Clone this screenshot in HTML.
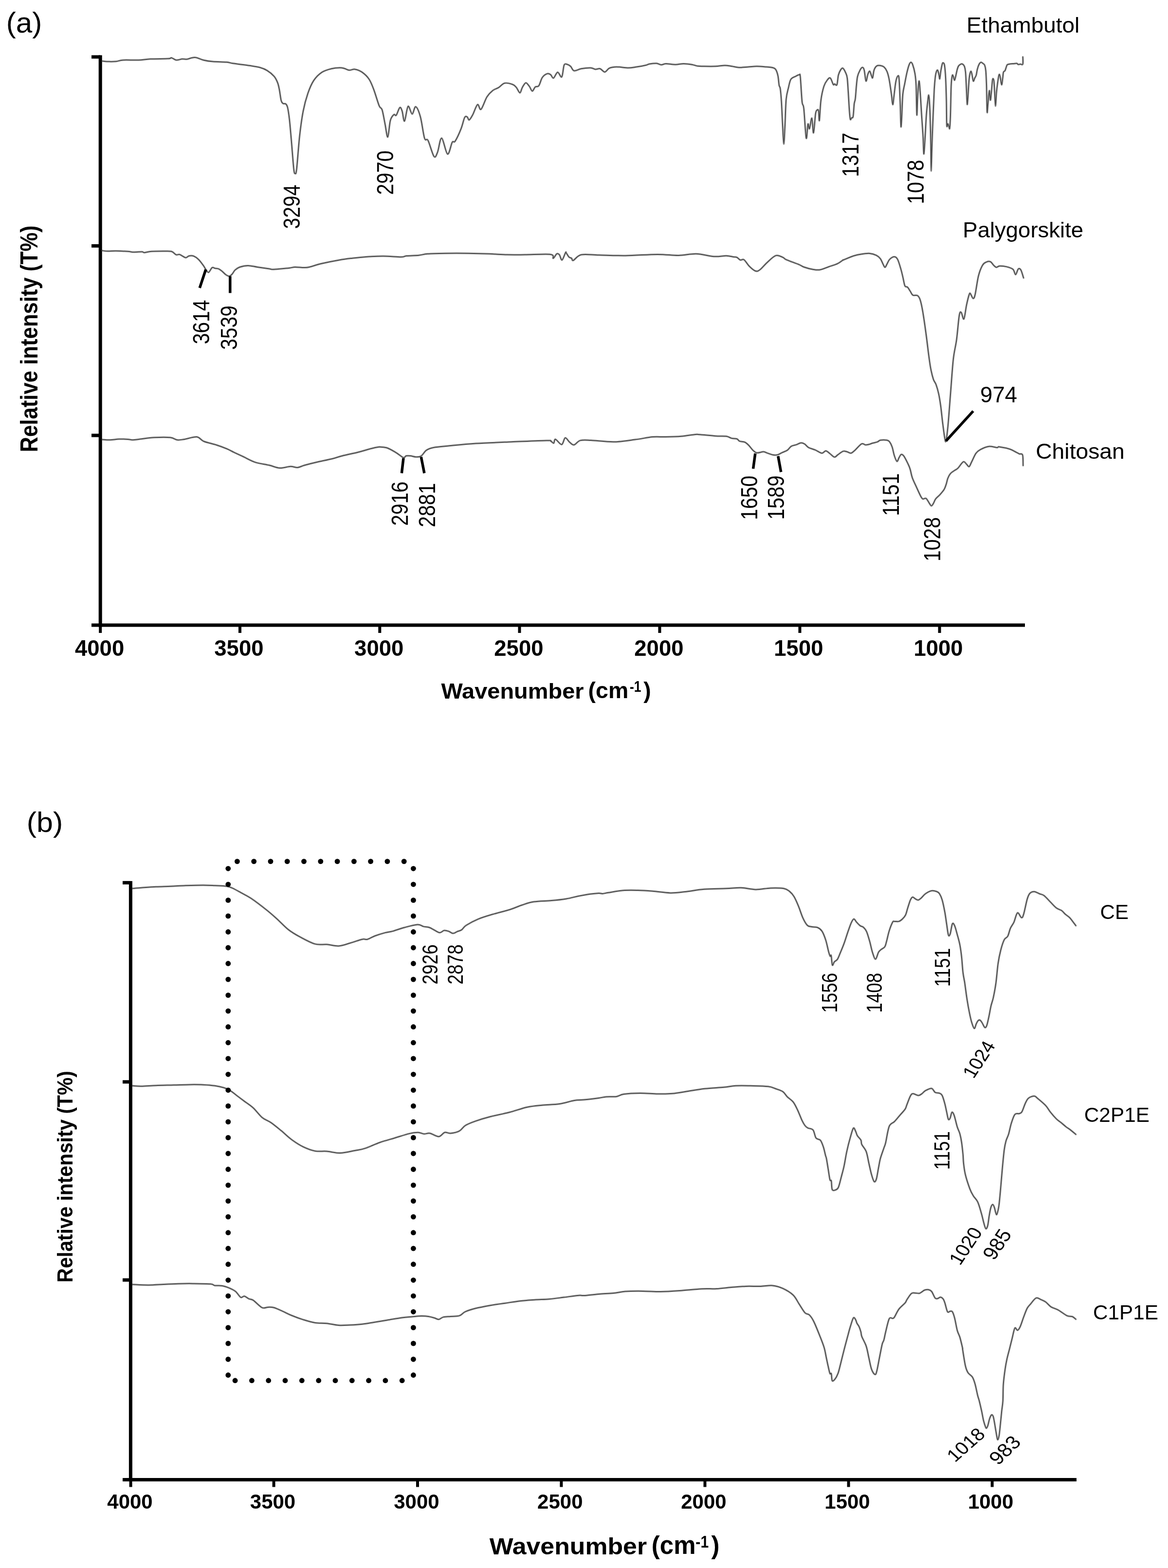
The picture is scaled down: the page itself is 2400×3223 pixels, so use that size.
<!DOCTYPE html><html><head><meta charset="utf-8"><title>FTIR spectra</title>
<style>html,body{margin:0;padding:0;background:#fff;}svg{display:block;} text{font-family:"Liberation Sans", Arial, Helvetica, sans-serif;fill:#000;}</style></head><body>
<svg width="2400" height="3223" viewBox="0 0 2400 3223">
<rect width="2400" height="3223" fill="#fff"/>
<line x1="206.2" y1="113.5" x2="206.2" y2="1288.5" stroke="#000" stroke-width="7"/>
<line x1="188" y1="117" x2="206" y2="117" stroke="#000" stroke-width="7"/>
<line x1="188" y1="505.4" x2="206" y2="505.4" stroke="#000" stroke-width="7"/>
<line x1="188" y1="895" x2="206" y2="895" stroke="#000" stroke-width="7"/>
<line x1="188" y1="1285" x2="2106" y2="1285" stroke="#000" stroke-width="7"/>
<line x1="206.2" y1="1285" x2="206.2" y2="1301" stroke="#000" stroke-width="6"/>
<line x1="493" y1="1285" x2="493" y2="1301" stroke="#000" stroke-width="6"/>
<line x1="780.3" y1="1285" x2="780.3" y2="1301" stroke="#000" stroke-width="6"/>
<line x1="1067.5" y1="1285" x2="1067.5" y2="1301" stroke="#000" stroke-width="6"/>
<line x1="1355.5" y1="1285" x2="1355.5" y2="1301" stroke="#000" stroke-width="6"/>
<line x1="1643.5" y1="1285" x2="1643.5" y2="1301" stroke="#000" stroke-width="6"/>
<line x1="1930.6" y1="1285" x2="1930.6" y2="1301" stroke="#000" stroke-width="6"/>
<line x1="268.4" y1="1811" x2="268.4" y2="3045" stroke="#000" stroke-width="7"/>
<line x1="252" y1="1814.4" x2="268" y2="1814.4" stroke="#000" stroke-width="7"/>
<line x1="252" y1="2223.8" x2="268" y2="2223.8" stroke="#000" stroke-width="7"/>
<line x1="252" y1="2631" x2="268" y2="2631" stroke="#000" stroke-width="7"/>
<line x1="252" y1="3041.5" x2="2212" y2="3041.5" stroke="#000" stroke-width="7"/>
<line x1="268.6" y1="3041.5" x2="268.6" y2="3056.5" stroke="#000" stroke-width="6"/>
<line x1="562.6" y1="3041.5" x2="562.6" y2="3056.5" stroke="#000" stroke-width="6"/>
<line x1="858" y1="3041.5" x2="858" y2="3056.5" stroke="#000" stroke-width="6"/>
<line x1="1153.4" y1="3041.5" x2="1153.4" y2="3056.5" stroke="#000" stroke-width="6"/>
<line x1="1448.5" y1="3041.5" x2="1448.5" y2="3056.5" stroke="#000" stroke-width="6"/>
<line x1="1743.6" y1="3041.5" x2="1743.6" y2="3056.5" stroke="#000" stroke-width="6"/>
<line x1="2038.7" y1="3041.5" x2="2038.7" y2="3056.5" stroke="#000" stroke-width="6"/>
<path d="M209.7,125.4C212.1,125.6 219.4,126.5 224.2,126.6C229.0,126.7 233.8,126.7 238.7,126.2C243.5,125.7 245.6,124.0 253.3,123.5C261.0,123.0 275.4,123.9 284.7,123.5C294.0,123.1 298.9,121.8 309.0,121.3C319.1,120.8 338.1,121.0 345.3,120.6C352.6,120.2 349.7,118.4 352.5,118.9C355.3,119.4 358.6,123.1 362.2,123.5C365.8,123.9 370.7,121.6 374.3,121.3C377.9,121.0 380.8,122.2 384.0,121.8C387.2,121.4 390.5,119.5 393.7,118.9C396.9,118.3 399.4,117.6 403.4,118.4C407.4,119.2 412.2,122.1 417.9,123.5C423.5,124.9 429.2,125.9 437.3,126.6C445.4,127.3 459.4,127.2 466.3,127.8C473.2,128.4 470.4,129.1 478.5,130.3C486.6,131.5 505.5,133.7 514.8,135.1C524.1,136.5 528.5,137.1 534.1,138.7C539.8,140.3 543.9,141.8 548.7,144.8C553.6,147.8 559.6,152.7 563.2,156.9C566.8,161.1 568.7,165.6 570.5,170.2C572.3,174.8 572.9,178.6 574.1,184.7C575.3,190.8 576.5,201.8 577.7,206.5C578.9,211.2 579.8,211.4 581.4,212.6C583.0,213.8 585.8,212.4 587.4,213.8C589.0,215.2 589.8,215.8 591.0,221.1C592.2,226.3 593.4,234.0 594.7,245.3C596.0,256.6 597.2,271.9 598.7,288.9C600.2,305.8 602.3,335.7 603.6,347.0C604.9,358.3 605.5,356.7 606.5,356.7C607.5,356.7 608.1,359.9 609.6,347.0C611.1,334.1 613.5,299.0 615.7,279.2C617.9,259.4 620.2,242.8 623.0,228.3C625.8,213.8 629.0,202.5 632.6,192.0C636.2,181.5 639.9,172.7 644.7,165.4C649.6,158.1 655.6,152.4 661.7,148.4C667.8,144.4 675.1,142.7 681.1,141.2C687.1,139.7 693.6,139.3 698.0,139.2C702.4,139.1 704.5,139.8 707.7,140.7C710.9,141.5 713.8,144.0 717.4,144.3C721.0,144.6 725.1,141.7 729.5,142.4C733.9,143.1 739.2,145.0 744.0,148.4C748.8,151.8 754.5,156.9 758.5,163.0C762.5,169.1 764.8,175.6 768.2,184.7C771.6,193.8 776.3,210.5 779.1,217.4C781.9,224.3 783.2,219.6 785.2,225.9C787.2,232.2 789.3,245.7 791.2,255.0C793.1,264.3 795.0,282.8 796.8,281.6C798.6,280.4 800.0,255.4 802.1,247.7C804.2,240.0 807.4,237.4 809.4,235.6C811.4,233.8 812.2,239.2 814.2,236.8C816.2,234.4 819.5,222.5 821.5,221.1C823.5,219.7 824.7,223.7 826.3,228.3C827.9,232.9 829.2,250.5 831.2,248.9C833.2,247.3 835.9,221.0 838.5,218.6C841.1,216.2 844.3,234.3 846.9,234.4C849.5,234.5 851.4,218.4 854.2,219.4C857.0,220.4 860.9,229.6 863.9,240.4C866.9,251.2 869.7,275.9 872.3,284.0C874.9,292.1 876.4,282.6 879.6,288.9C882.8,295.1 888.5,317.5 891.7,321.5C894.9,325.5 896.4,319.4 899.0,313.1C901.6,306.9 904.1,283.4 907.5,284.0C910.9,284.6 916.0,315.3 919.6,316.7C923.2,318.1 926.6,296.9 929.2,292.5C931.8,288.1 932.3,294.8 935.3,290.1C938.3,285.5 944.2,272.7 947.4,264.6C950.6,256.5 952.6,245.6 954.7,241.6C956.8,237.6 958.4,239.6 960.0,240.4C961.6,241.2 962.3,247.3 964.2,246.5C966.1,245.7 968.7,240.8 971.5,235.6C974.3,230.3 978.4,216.8 981.2,215.0C984.0,213.2 985.2,227.3 988.4,224.7C991.6,222.1 996.5,205.8 1000.5,199.3C1004.5,192.9 1008.6,189.2 1012.6,186.0C1016.6,182.8 1020.7,182.4 1024.7,179.9C1028.8,177.4 1032.1,171.9 1036.9,170.9C1041.8,169.9 1049.8,172.3 1053.8,173.8C1057.8,175.3 1058.7,177.1 1061.1,179.9C1063.5,182.7 1066.3,190.8 1068.3,190.8C1070.3,190.8 1071.2,183.3 1073.2,179.9C1075.2,176.5 1078.0,170.6 1080.4,170.2C1082.8,169.8 1085.5,174.7 1087.7,177.5C1089.9,180.3 1091.8,187.0 1093.8,187.2C1095.8,187.4 1097.6,180.5 1099.8,178.7C1102.0,176.9 1104.7,179.5 1107.1,176.3C1109.5,173.1 1111.5,163.4 1114.3,159.3C1117.1,155.2 1121.2,152.6 1124.0,151.6C1126.8,150.6 1129.1,151.8 1131.3,153.3C1133.5,154.8 1134.9,161.3 1137.3,160.5C1139.7,159.7 1143.0,148.8 1145.8,148.4C1148.6,148.0 1152.1,160.5 1154.3,158.1C1156.5,155.7 1157.3,138.2 1159.1,133.9C1160.9,129.6 1163.0,131.8 1165.2,132.2C1167.4,132.6 1170.0,134.1 1172.4,136.3C1174.8,138.5 1176.1,144.7 1179.7,145.5C1183.3,146.3 1188.6,142.2 1194.2,141.2C1199.8,140.2 1208.8,139.3 1213.6,139.5C1218.4,139.7 1220.1,142.1 1223.3,142.4C1226.5,142.7 1229.8,140.3 1233.0,141.2C1236.2,142.1 1239.5,148.1 1242.7,147.9C1245.9,147.7 1248.3,141.7 1252.3,140.0C1256.3,138.3 1260.4,137.6 1266.9,137.5C1273.4,137.4 1284.2,139.5 1291.1,139.5C1297.9,139.5 1302.0,138.4 1308.0,137.5C1314.0,136.6 1323.0,134.9 1327.4,133.9C1331.8,132.9 1330.9,132.1 1334.5,131.5C1338.1,130.9 1345.1,130.0 1349.1,130.3C1353.1,130.6 1355.5,133.1 1358.7,133.2C1361.9,133.3 1363.6,131.1 1368.4,131.0C1373.2,130.9 1381.8,132.7 1387.8,132.7C1393.8,132.7 1399.0,131.0 1404.7,131.0C1410.4,131.0 1416.9,131.9 1421.7,132.7C1426.5,133.5 1429.8,135.2 1433.8,135.8C1437.8,136.4 1439.9,136.2 1445.9,136.3C1452.0,136.4 1462.8,136.6 1470.1,136.3C1477.4,136.0 1483.8,134.4 1489.5,134.4C1495.2,134.4 1499.2,135.6 1504.0,136.3C1508.8,137.0 1512.8,138.5 1518.5,138.7C1524.2,138.9 1531.8,137.9 1537.9,137.5C1544.0,137.1 1548.9,136.3 1554.9,136.3C1561.0,136.3 1569.0,137.1 1574.2,137.5C1579.4,137.9 1583.1,137.9 1586.3,138.7C1589.5,139.5 1591.6,139.6 1593.6,142.4C1595.6,145.2 1597.3,150.2 1598.5,155.7C1599.7,161.1 1600.1,170.7 1600.9,175.1C1601.7,179.5 1602.5,176.7 1603.3,182.3C1604.1,188.0 1604.9,196.5 1605.7,209.0C1606.5,221.5 1607.3,242.9 1608.1,257.4C1608.9,271.9 1609.8,296.1 1610.6,296.1C1611.4,296.1 1612.2,272.7 1613.0,257.4C1613.8,242.1 1614.2,217.0 1615.4,204.1C1616.6,191.2 1618.6,186.8 1620.2,179.9C1621.8,173.1 1622.7,166.8 1625.1,163.0C1627.5,159.2 1632.0,158.4 1634.8,156.9C1637.6,155.4 1640.4,153.6 1642.0,153.8C1643.6,154.0 1643.5,148.9 1644.5,158.1C1645.5,167.3 1646.9,198.1 1648.1,209.0C1649.3,219.9 1650.3,211.0 1651.7,223.5C1653.1,236.0 1655.2,278.8 1656.6,284.0C1658.0,289.2 1659.1,258.2 1660.2,255.0C1661.3,251.8 1662.0,266.6 1663.3,264.6C1664.6,262.6 1666.8,241.5 1668.2,242.9C1669.6,244.3 1670.3,274.7 1671.6,273.1C1672.9,271.5 1674.6,241.1 1675.9,233.2C1677.2,225.3 1678.6,226.7 1679.6,225.9C1680.6,225.1 1681.3,224.7 1682.0,228.3C1682.7,231.9 1682.9,251.3 1683.7,247.7C1684.5,244.1 1685.3,218.2 1686.8,206.5C1688.3,194.8 1690.7,184.6 1692.9,177.5C1695.1,170.4 1697.9,167.0 1700.1,164.2C1702.3,161.4 1704.2,158.9 1706.2,160.5C1708.2,162.1 1710.8,171.8 1712.3,173.8C1713.8,175.8 1713.9,172.5 1715.1,172.6C1716.3,172.7 1718.4,177.2 1719.7,174.2C1721.0,171.2 1721.5,159.6 1722.7,154.5C1724.0,149.4 1725.7,146.3 1727.2,143.9C1728.7,141.5 1730.0,139.1 1731.8,140.1C1733.6,141.1 1736.3,146.5 1737.8,149.9C1739.3,153.3 1740.0,153.7 1740.9,160.5C1741.8,167.3 1742.3,179.5 1743.1,190.8C1743.8,202.2 1744.7,219.5 1745.4,228.6C1746.1,237.7 1746.5,243.0 1747.2,245.3C1748.0,247.6 1748.9,243.3 1749.9,242.3C1750.9,241.3 1752.1,244.0 1753.0,239.2C1753.9,234.4 1754.5,219.6 1755.2,213.5C1756.0,207.4 1756.7,209.2 1757.5,202.9C1758.3,196.6 1759.0,183.3 1759.8,175.7C1760.5,168.1 1760.9,162.6 1762.0,157.5C1763.1,152.4 1764.9,148.6 1766.6,145.4C1768.2,142.2 1770.4,138.8 1771.9,138.6C1773.4,138.3 1774.5,139.2 1775.7,143.9C1777.0,148.6 1778.2,165.1 1779.4,166.6C1780.7,168.1 1781.9,156.4 1783.2,153.0C1784.5,149.6 1785.7,145.7 1787.0,146.2C1788.3,146.7 1789.8,153.7 1790.8,156.0C1791.8,158.3 1792.2,161.8 1793.1,159.8C1794.0,157.8 1794.7,147.9 1796.1,143.9C1797.5,139.9 1799.2,137.1 1801.4,135.6C1803.6,134.1 1806.5,134.4 1809.0,134.8C1811.5,135.2 1814.2,135.8 1816.5,137.8C1818.8,139.8 1820.8,142.6 1822.6,146.9C1824.4,151.2 1825.6,155.8 1827.1,163.6C1828.6,171.4 1830.5,185.2 1831.7,193.8C1832.9,202.4 1833.5,214.5 1834.4,215.0C1835.3,215.5 1836.0,204.7 1837.0,196.9C1838.0,189.1 1839.4,174.9 1840.7,168.1C1842.0,161.3 1843.9,156.8 1845.0,156.0C1846.1,155.2 1846.7,153.8 1847.5,163.6C1848.3,173.4 1849.2,198.9 1849.8,215.0C1850.4,231.1 1850.8,256.9 1851.3,260.4C1851.8,263.9 1852.5,247.3 1853.1,236.2C1853.7,225.1 1854.1,204.4 1855.1,193.8C1856.1,183.2 1857.5,179.9 1858.9,172.6C1860.3,165.3 1861.9,156.4 1863.4,149.9C1864.9,143.4 1866.6,137.0 1868.0,133.3C1869.4,129.7 1870.5,128.0 1871.8,128.0C1873.0,128.0 1874.1,129.4 1875.5,133.3C1876.9,137.2 1878.9,144.4 1880.1,151.5C1881.2,158.6 1881.8,161.6 1882.4,175.7C1883.0,189.8 1883.4,231.7 1883.9,236.2C1884.4,240.7 1884.8,213.8 1885.4,202.9C1886.0,192.1 1887.1,176.7 1887.7,171.1C1888.3,165.5 1888.6,165.0 1889.2,169.6C1889.8,174.2 1890.7,187.3 1891.4,198.4C1892.2,209.5 1892.8,222.3 1893.7,236.2C1894.6,250.1 1896.0,268.2 1896.7,281.6C1897.5,295.0 1897.6,315.1 1898.2,316.4C1898.8,317.7 1899.6,302.6 1900.5,289.2C1901.4,275.8 1902.5,250.1 1903.5,236.2C1904.5,222.3 1905.8,212.7 1906.6,205.9C1907.4,199.1 1907.6,195.3 1908.1,195.3C1908.6,195.3 1909.1,199.1 1909.6,205.9C1910.1,212.7 1910.6,221.1 1911.1,236.2C1911.6,251.3 1912.2,277.5 1912.6,296.7C1913.0,315.9 1913.0,351.5 1913.4,351.5C1913.8,351.5 1914.4,315.9 1915.1,296.7C1915.8,277.5 1916.6,255.1 1917.4,236.2C1918.2,217.3 1919.0,196.3 1919.7,183.2C1920.5,170.1 1921.2,163.6 1921.9,157.5C1922.7,151.4 1923.4,149.1 1924.2,146.9C1925.0,144.8 1926.0,143.3 1926.9,144.6C1927.8,145.9 1928.8,151.6 1929.5,154.5C1930.2,157.4 1930.4,163.5 1931.0,162.0C1931.6,160.5 1932.4,150.6 1933.3,145.4C1934.2,140.2 1935.4,133.7 1936.3,131.0C1937.2,128.3 1937.8,128.9 1938.6,129.5C1939.4,130.1 1940.2,129.6 1940.9,134.8C1941.7,140.0 1942.5,148.7 1943.1,160.5C1943.7,172.3 1944.2,189.8 1944.6,205.9C1945.0,222.1 1944.9,249.3 1945.4,257.4C1945.9,265.5 1947.0,253.9 1947.7,254.4C1948.5,254.9 1949.3,258.9 1949.9,260.4C1950.5,261.9 1951.0,267.4 1951.5,263.4C1952.0,259.4 1952.5,250.8 1953.0,236.2C1953.5,221.6 1953.9,189.2 1954.5,175.7C1955.1,162.2 1956.0,158.2 1956.7,155.2C1957.5,152.2 1958.2,155.8 1959.0,157.5C1959.8,159.2 1960.5,165.1 1961.3,165.1C1962.1,165.1 1962.7,161.0 1963.6,157.5C1964.5,154.0 1965.6,147.6 1966.6,143.9C1967.6,140.2 1968.3,137.6 1969.6,135.6C1970.9,133.6 1972.8,132.4 1974.2,131.8C1975.6,131.2 1976.7,131.1 1977.9,131.8C1979.2,132.6 1980.7,133.5 1981.7,136.3C1982.7,139.1 1983.4,141.8 1984.0,148.4C1984.6,155.0 1985.0,165.6 1985.5,175.7C1986.0,185.8 1986.6,202.7 1987.0,209.0C1987.4,215.3 1987.4,216.0 1987.8,213.5C1988.2,211.0 1988.7,202.6 1989.3,193.8C1989.9,185.0 1990.7,168.3 1991.6,160.5C1992.5,152.7 1993.7,148.4 1994.6,146.9C1995.5,145.4 1996.0,148.2 1996.9,151.5C1997.8,154.8 1998.9,165.1 1999.9,166.6C2000.9,168.1 2001.9,162.5 2002.9,160.5C2003.9,158.5 2005.0,157.5 2005.9,154.5C2006.8,151.5 2007.2,146.2 2008.2,142.4C2009.2,138.6 2010.7,134.2 2012.0,131.8C2013.3,129.4 2014.5,128.2 2015.8,128.0C2017.1,127.8 2018.3,129.3 2019.6,130.3C2020.8,131.3 2022.3,131.5 2023.3,134.0C2024.3,136.5 2025.0,138.5 2025.6,145.4C2026.2,152.3 2026.6,161.6 2027.1,175.7C2027.5,189.8 2027.8,223.8 2028.3,230.1C2028.8,236.4 2029.3,220.8 2030.1,213.5C2030.9,206.2 2032.1,187.6 2032.9,186.3C2033.7,185.0 2034.3,205.2 2035.0,205.9C2035.7,206.7 2036.2,197.9 2037.0,190.8C2037.8,183.8 2038.6,167.6 2039.5,163.6C2040.4,159.6 2041.6,162.1 2042.3,166.6C2043.0,171.1 2043.2,182.2 2043.8,190.8C2044.3,199.4 2045.0,218.0 2045.6,218.0C2046.2,218.0 2046.8,198.6 2047.5,190.8C2048.2,183.0 2048.9,177.3 2049.8,171.1C2050.7,164.9 2051.9,156.0 2052.8,153.7C2053.7,151.4 2054.2,154.1 2055.1,157.5C2056.0,160.9 2057.2,173.7 2058.1,174.2C2059.0,174.7 2059.8,164.8 2060.4,160.5C2061.0,156.2 2061.1,150.9 2061.9,148.4C2062.7,145.9 2064.1,146.9 2065.0,145.4C2065.9,143.9 2066.4,141.3 2067.2,139.3C2067.9,137.3 2068.4,134.6 2069.5,133.3C2070.6,132.1 2072.0,132.2 2074.0,131.8C2076.0,131.4 2079.1,131.2 2081.6,131.0C2084.1,130.8 2087.4,130.1 2089.2,130.3C2091.0,130.6 2090.9,132.2 2092.2,132.5C2093.4,132.8 2095.1,131.9 2096.7,131.8C2098.3,131.7 2100.9,134.3 2101.7,131.8C2102.5,129.3 2101.7,119.4 2101.7,116.9" fill="none" stroke="#000" stroke-opacity="0.27" stroke-width="4" stroke-linejoin="round" stroke-linecap="round"/>
<path d="M209.7,125.4C212.1,125.6 219.4,126.5 224.2,126.6C229.0,126.7 233.8,126.7 238.7,126.2C243.5,125.7 245.6,124.0 253.3,123.5C261.0,123.0 275.4,123.9 284.7,123.5C294.0,123.1 298.9,121.8 309.0,121.3C319.1,120.8 338.1,121.0 345.3,120.6C352.6,120.2 349.7,118.4 352.5,118.9C355.3,119.4 358.6,123.1 362.2,123.5C365.8,123.9 370.7,121.6 374.3,121.3C377.9,121.0 380.8,122.2 384.0,121.8C387.2,121.4 390.5,119.5 393.7,118.9C396.9,118.3 399.4,117.6 403.4,118.4C407.4,119.2 412.2,122.1 417.9,123.5C423.5,124.9 429.2,125.9 437.3,126.6C445.4,127.3 459.4,127.2 466.3,127.8C473.2,128.4 470.4,129.1 478.5,130.3C486.6,131.5 505.5,133.7 514.8,135.1C524.1,136.5 528.5,137.1 534.1,138.7C539.8,140.3 543.9,141.8 548.7,144.8C553.6,147.8 559.6,152.7 563.2,156.9C566.8,161.1 568.7,165.6 570.5,170.2C572.3,174.8 572.9,178.6 574.1,184.7C575.3,190.8 576.5,201.8 577.7,206.5C578.9,211.2 579.8,211.4 581.4,212.6C583.0,213.8 585.8,212.4 587.4,213.8C589.0,215.2 589.8,215.8 591.0,221.1C592.2,226.3 593.4,234.0 594.7,245.3C596.0,256.6 597.2,271.9 598.7,288.9C600.2,305.8 602.3,335.7 603.6,347.0C604.9,358.3 605.5,356.7 606.5,356.7C607.5,356.7 608.1,359.9 609.6,347.0C611.1,334.1 613.5,299.0 615.7,279.2C617.9,259.4 620.2,242.8 623.0,228.3C625.8,213.8 629.0,202.5 632.6,192.0C636.2,181.5 639.9,172.7 644.7,165.4C649.6,158.1 655.6,152.4 661.7,148.4C667.8,144.4 675.1,142.7 681.1,141.2C687.1,139.7 693.6,139.3 698.0,139.2C702.4,139.1 704.5,139.8 707.7,140.7C710.9,141.5 713.8,144.0 717.4,144.3C721.0,144.6 725.1,141.7 729.5,142.4C733.9,143.1 739.2,145.0 744.0,148.4C748.8,151.8 754.5,156.9 758.5,163.0C762.5,169.1 764.8,175.6 768.2,184.7C771.6,193.8 776.3,210.5 779.1,217.4C781.9,224.3 783.2,219.6 785.2,225.9C787.2,232.2 789.3,245.7 791.2,255.0C793.1,264.3 795.0,282.8 796.8,281.6C798.6,280.4 800.0,255.4 802.1,247.7C804.2,240.0 807.4,237.4 809.4,235.6C811.4,233.8 812.2,239.2 814.2,236.8C816.2,234.4 819.5,222.5 821.5,221.1C823.5,219.7 824.7,223.7 826.3,228.3C827.9,232.9 829.2,250.5 831.2,248.9C833.2,247.3 835.9,221.0 838.5,218.6C841.1,216.2 844.3,234.3 846.9,234.4C849.5,234.5 851.4,218.4 854.2,219.4C857.0,220.4 860.9,229.6 863.9,240.4C866.9,251.2 869.7,275.9 872.3,284.0C874.9,292.1 876.4,282.6 879.6,288.9C882.8,295.1 888.5,317.5 891.7,321.5C894.9,325.5 896.4,319.4 899.0,313.1C901.6,306.9 904.1,283.4 907.5,284.0C910.9,284.6 916.0,315.3 919.6,316.7C923.2,318.1 926.6,296.9 929.2,292.5C931.8,288.1 932.3,294.8 935.3,290.1C938.3,285.5 944.2,272.7 947.4,264.6C950.6,256.5 952.6,245.6 954.7,241.6C956.8,237.6 958.4,239.6 960.0,240.4C961.6,241.2 962.3,247.3 964.2,246.5C966.1,245.7 968.7,240.8 971.5,235.6C974.3,230.3 978.4,216.8 981.2,215.0C984.0,213.2 985.2,227.3 988.4,224.7C991.6,222.1 996.5,205.8 1000.5,199.3C1004.5,192.9 1008.6,189.2 1012.6,186.0C1016.6,182.8 1020.7,182.4 1024.7,179.9C1028.8,177.4 1032.1,171.9 1036.9,170.9C1041.8,169.9 1049.8,172.3 1053.8,173.8C1057.8,175.3 1058.7,177.1 1061.1,179.9C1063.5,182.7 1066.3,190.8 1068.3,190.8C1070.3,190.8 1071.2,183.3 1073.2,179.9C1075.2,176.5 1078.0,170.6 1080.4,170.2C1082.8,169.8 1085.5,174.7 1087.7,177.5C1089.9,180.3 1091.8,187.0 1093.8,187.2C1095.8,187.4 1097.6,180.5 1099.8,178.7C1102.0,176.9 1104.7,179.5 1107.1,176.3C1109.5,173.1 1111.5,163.4 1114.3,159.3C1117.1,155.2 1121.2,152.6 1124.0,151.6C1126.8,150.6 1129.1,151.8 1131.3,153.3C1133.5,154.8 1134.9,161.3 1137.3,160.5C1139.7,159.7 1143.0,148.8 1145.8,148.4C1148.6,148.0 1152.1,160.5 1154.3,158.1C1156.5,155.7 1157.3,138.2 1159.1,133.9C1160.9,129.6 1163.0,131.8 1165.2,132.2C1167.4,132.6 1170.0,134.1 1172.4,136.3C1174.8,138.5 1176.1,144.7 1179.7,145.5C1183.3,146.3 1188.6,142.2 1194.2,141.2C1199.8,140.2 1208.8,139.3 1213.6,139.5C1218.4,139.7 1220.1,142.1 1223.3,142.4C1226.5,142.7 1229.8,140.3 1233.0,141.2C1236.2,142.1 1239.5,148.1 1242.7,147.9C1245.9,147.7 1248.3,141.7 1252.3,140.0C1256.3,138.3 1260.4,137.6 1266.9,137.5C1273.4,137.4 1284.2,139.5 1291.1,139.5C1297.9,139.5 1302.0,138.4 1308.0,137.5C1314.0,136.6 1323.0,134.9 1327.4,133.9C1331.8,132.9 1330.9,132.1 1334.5,131.5C1338.1,130.9 1345.1,130.0 1349.1,130.3C1353.1,130.6 1355.5,133.1 1358.7,133.2C1361.9,133.3 1363.6,131.1 1368.4,131.0C1373.2,130.9 1381.8,132.7 1387.8,132.7C1393.8,132.7 1399.0,131.0 1404.7,131.0C1410.4,131.0 1416.9,131.9 1421.7,132.7C1426.5,133.5 1429.8,135.2 1433.8,135.8C1437.8,136.4 1439.9,136.2 1445.9,136.3C1452.0,136.4 1462.8,136.6 1470.1,136.3C1477.4,136.0 1483.8,134.4 1489.5,134.4C1495.2,134.4 1499.2,135.6 1504.0,136.3C1508.8,137.0 1512.8,138.5 1518.5,138.7C1524.2,138.9 1531.8,137.9 1537.9,137.5C1544.0,137.1 1548.9,136.3 1554.9,136.3C1561.0,136.3 1569.0,137.1 1574.2,137.5C1579.4,137.9 1583.1,137.9 1586.3,138.7C1589.5,139.5 1591.6,139.6 1593.6,142.4C1595.6,145.2 1597.3,150.2 1598.5,155.7C1599.7,161.1 1600.1,170.7 1600.9,175.1C1601.7,179.5 1602.5,176.7 1603.3,182.3C1604.1,188.0 1604.9,196.5 1605.7,209.0C1606.5,221.5 1607.3,242.9 1608.1,257.4C1608.9,271.9 1609.8,296.1 1610.6,296.1C1611.4,296.1 1612.2,272.7 1613.0,257.4C1613.8,242.1 1614.2,217.0 1615.4,204.1C1616.6,191.2 1618.6,186.8 1620.2,179.9C1621.8,173.1 1622.7,166.8 1625.1,163.0C1627.5,159.2 1632.0,158.4 1634.8,156.9C1637.6,155.4 1640.4,153.6 1642.0,153.8C1643.6,154.0 1643.5,148.9 1644.5,158.1C1645.5,167.3 1646.9,198.1 1648.1,209.0C1649.3,219.9 1650.3,211.0 1651.7,223.5C1653.1,236.0 1655.2,278.8 1656.6,284.0C1658.0,289.2 1659.1,258.2 1660.2,255.0C1661.3,251.8 1662.0,266.6 1663.3,264.6C1664.6,262.6 1666.8,241.5 1668.2,242.9C1669.6,244.3 1670.3,274.7 1671.6,273.1C1672.9,271.5 1674.6,241.1 1675.9,233.2C1677.2,225.3 1678.6,226.7 1679.6,225.9C1680.6,225.1 1681.3,224.7 1682.0,228.3C1682.7,231.9 1682.9,251.3 1683.7,247.7C1684.5,244.1 1685.3,218.2 1686.8,206.5C1688.3,194.8 1690.7,184.6 1692.9,177.5C1695.1,170.4 1697.9,167.0 1700.1,164.2C1702.3,161.4 1704.2,158.9 1706.2,160.5C1708.2,162.1 1710.8,171.8 1712.3,173.8C1713.8,175.8 1713.9,172.5 1715.1,172.6C1716.3,172.7 1718.4,177.2 1719.7,174.2C1721.0,171.2 1721.5,159.6 1722.7,154.5C1724.0,149.4 1725.7,146.3 1727.2,143.9C1728.7,141.5 1730.0,139.1 1731.8,140.1C1733.6,141.1 1736.3,146.5 1737.8,149.9C1739.3,153.3 1740.0,153.7 1740.9,160.5C1741.8,167.3 1742.3,179.5 1743.1,190.8C1743.8,202.2 1744.7,219.5 1745.4,228.6C1746.1,237.7 1746.5,243.0 1747.2,245.3C1748.0,247.6 1748.9,243.3 1749.9,242.3C1750.9,241.3 1752.1,244.0 1753.0,239.2C1753.9,234.4 1754.5,219.6 1755.2,213.5C1756.0,207.4 1756.7,209.2 1757.5,202.9C1758.3,196.6 1759.0,183.3 1759.8,175.7C1760.5,168.1 1760.9,162.6 1762.0,157.5C1763.1,152.4 1764.9,148.6 1766.6,145.4C1768.2,142.2 1770.4,138.8 1771.9,138.6C1773.4,138.3 1774.5,139.2 1775.7,143.9C1777.0,148.6 1778.2,165.1 1779.4,166.6C1780.7,168.1 1781.9,156.4 1783.2,153.0C1784.5,149.6 1785.7,145.7 1787.0,146.2C1788.3,146.7 1789.8,153.7 1790.8,156.0C1791.8,158.3 1792.2,161.8 1793.1,159.8C1794.0,157.8 1794.7,147.9 1796.1,143.9C1797.5,139.9 1799.2,137.1 1801.4,135.6C1803.6,134.1 1806.5,134.4 1809.0,134.8C1811.5,135.2 1814.2,135.8 1816.5,137.8C1818.8,139.8 1820.8,142.6 1822.6,146.9C1824.4,151.2 1825.6,155.8 1827.1,163.6C1828.6,171.4 1830.5,185.2 1831.7,193.8C1832.9,202.4 1833.5,214.5 1834.4,215.0C1835.3,215.5 1836.0,204.7 1837.0,196.9C1838.0,189.1 1839.4,174.9 1840.7,168.1C1842.0,161.3 1843.9,156.8 1845.0,156.0C1846.1,155.2 1846.7,153.8 1847.5,163.6C1848.3,173.4 1849.2,198.9 1849.8,215.0C1850.4,231.1 1850.8,256.9 1851.3,260.4C1851.8,263.9 1852.5,247.3 1853.1,236.2C1853.7,225.1 1854.1,204.4 1855.1,193.8C1856.1,183.2 1857.5,179.9 1858.9,172.6C1860.3,165.3 1861.9,156.4 1863.4,149.9C1864.9,143.4 1866.6,137.0 1868.0,133.3C1869.4,129.7 1870.5,128.0 1871.8,128.0C1873.0,128.0 1874.1,129.4 1875.5,133.3C1876.9,137.2 1878.9,144.4 1880.1,151.5C1881.2,158.6 1881.8,161.6 1882.4,175.7C1883.0,189.8 1883.4,231.7 1883.9,236.2C1884.4,240.7 1884.8,213.8 1885.4,202.9C1886.0,192.1 1887.1,176.7 1887.7,171.1C1888.3,165.5 1888.6,165.0 1889.2,169.6C1889.8,174.2 1890.7,187.3 1891.4,198.4C1892.2,209.5 1892.8,222.3 1893.7,236.2C1894.6,250.1 1896.0,268.2 1896.7,281.6C1897.5,295.0 1897.6,315.1 1898.2,316.4C1898.8,317.7 1899.6,302.6 1900.5,289.2C1901.4,275.8 1902.5,250.1 1903.5,236.2C1904.5,222.3 1905.8,212.7 1906.6,205.9C1907.4,199.1 1907.6,195.3 1908.1,195.3C1908.6,195.3 1909.1,199.1 1909.6,205.9C1910.1,212.7 1910.6,221.1 1911.1,236.2C1911.6,251.3 1912.2,277.5 1912.6,296.7C1913.0,315.9 1913.0,351.5 1913.4,351.5C1913.8,351.5 1914.4,315.9 1915.1,296.7C1915.8,277.5 1916.6,255.1 1917.4,236.2C1918.2,217.3 1919.0,196.3 1919.7,183.2C1920.5,170.1 1921.2,163.6 1921.9,157.5C1922.7,151.4 1923.4,149.1 1924.2,146.9C1925.0,144.8 1926.0,143.3 1926.9,144.6C1927.8,145.9 1928.8,151.6 1929.5,154.5C1930.2,157.4 1930.4,163.5 1931.0,162.0C1931.6,160.5 1932.4,150.6 1933.3,145.4C1934.2,140.2 1935.4,133.7 1936.3,131.0C1937.2,128.3 1937.8,128.9 1938.6,129.5C1939.4,130.1 1940.2,129.6 1940.9,134.8C1941.7,140.0 1942.5,148.7 1943.1,160.5C1943.7,172.3 1944.2,189.8 1944.6,205.9C1945.0,222.1 1944.9,249.3 1945.4,257.4C1945.9,265.5 1947.0,253.9 1947.7,254.4C1948.5,254.9 1949.3,258.9 1949.9,260.4C1950.5,261.9 1951.0,267.4 1951.5,263.4C1952.0,259.4 1952.5,250.8 1953.0,236.2C1953.5,221.6 1953.9,189.2 1954.5,175.7C1955.1,162.2 1956.0,158.2 1956.7,155.2C1957.5,152.2 1958.2,155.8 1959.0,157.5C1959.8,159.2 1960.5,165.1 1961.3,165.1C1962.1,165.1 1962.7,161.0 1963.6,157.5C1964.5,154.0 1965.6,147.6 1966.6,143.9C1967.6,140.2 1968.3,137.6 1969.6,135.6C1970.9,133.6 1972.8,132.4 1974.2,131.8C1975.6,131.2 1976.7,131.1 1977.9,131.8C1979.2,132.6 1980.7,133.5 1981.7,136.3C1982.7,139.1 1983.4,141.8 1984.0,148.4C1984.6,155.0 1985.0,165.6 1985.5,175.7C1986.0,185.8 1986.6,202.7 1987.0,209.0C1987.4,215.3 1987.4,216.0 1987.8,213.5C1988.2,211.0 1988.7,202.6 1989.3,193.8C1989.9,185.0 1990.7,168.3 1991.6,160.5C1992.5,152.7 1993.7,148.4 1994.6,146.9C1995.5,145.4 1996.0,148.2 1996.9,151.5C1997.8,154.8 1998.9,165.1 1999.9,166.6C2000.9,168.1 2001.9,162.5 2002.9,160.5C2003.9,158.5 2005.0,157.5 2005.9,154.5C2006.8,151.5 2007.2,146.2 2008.2,142.4C2009.2,138.6 2010.7,134.2 2012.0,131.8C2013.3,129.4 2014.5,128.2 2015.8,128.0C2017.1,127.8 2018.3,129.3 2019.6,130.3C2020.8,131.3 2022.3,131.5 2023.3,134.0C2024.3,136.5 2025.0,138.5 2025.6,145.4C2026.2,152.3 2026.6,161.6 2027.1,175.7C2027.5,189.8 2027.8,223.8 2028.3,230.1C2028.8,236.4 2029.3,220.8 2030.1,213.5C2030.9,206.2 2032.1,187.6 2032.9,186.3C2033.7,185.0 2034.3,205.2 2035.0,205.9C2035.7,206.7 2036.2,197.9 2037.0,190.8C2037.8,183.8 2038.6,167.6 2039.5,163.6C2040.4,159.6 2041.6,162.1 2042.3,166.6C2043.0,171.1 2043.2,182.2 2043.8,190.8C2044.3,199.4 2045.0,218.0 2045.6,218.0C2046.2,218.0 2046.8,198.6 2047.5,190.8C2048.2,183.0 2048.9,177.3 2049.8,171.1C2050.7,164.9 2051.9,156.0 2052.8,153.7C2053.7,151.4 2054.2,154.1 2055.1,157.5C2056.0,160.9 2057.2,173.7 2058.1,174.2C2059.0,174.7 2059.8,164.8 2060.4,160.5C2061.0,156.2 2061.1,150.9 2061.9,148.4C2062.7,145.9 2064.1,146.9 2065.0,145.4C2065.9,143.9 2066.4,141.3 2067.2,139.3C2067.9,137.3 2068.4,134.6 2069.5,133.3C2070.6,132.1 2072.0,132.2 2074.0,131.8C2076.0,131.4 2079.1,131.2 2081.6,131.0C2084.1,130.8 2087.4,130.1 2089.2,130.3C2091.0,130.6 2090.9,132.2 2092.2,132.5C2093.4,132.8 2095.1,131.9 2096.7,131.8C2098.3,131.7 2100.9,134.3 2101.7,131.8C2102.5,129.3 2101.7,119.4 2101.7,116.9" fill="none" stroke="#4c4c4c" stroke-width="2" stroke-linejoin="round" stroke-linecap="round"/>
<path d="M209.4,515.1C211.4,515.3 216.7,516.2 221.5,516.3C226.3,516.4 231.6,515.7 238.4,515.8C245.2,515.9 256.6,516.4 262.6,516.8C268.7,517.2 269.9,518.2 274.7,518.3C279.5,518.4 288.1,517.4 291.7,517.5C295.3,517.6 293.3,519.3 296.5,519.2C299.7,519.1 304.6,517.3 311.1,516.8C317.6,516.3 328.5,516.3 335.3,516.3C342.1,516.3 347.8,515.6 352.2,516.8C356.6,518.0 359.1,522.5 361.9,523.6C364.7,524.7 366.0,522.1 369.2,523.1C372.4,524.1 378.1,529.1 381.3,529.6C384.5,530.1 385.7,526.5 388.5,526.0C391.3,525.5 395.0,525.3 398.2,526.5C401.4,527.7 404.7,530.1 407.9,533.3C411.1,536.4 415.1,542.0 417.6,545.4C420.1,548.8 421.1,551.4 422.9,553.8C424.7,556.2 426.4,560.5 428.5,559.9C430.6,559.3 433.6,551.6 435.8,550.2C438.0,548.8 439.6,551.0 441.8,551.4C444.0,551.8 446.7,551.6 449.1,552.6C451.5,553.6 453.9,555.5 456.3,557.5C458.7,559.5 461.2,562.6 463.6,564.3C466.0,566.0 468.7,567.8 470.9,567.7C473.1,567.6 474.9,565.6 476.9,563.5C478.9,561.4 480.4,557.5 483.0,555.1C485.6,552.7 488.3,550.5 492.7,549.0C497.1,547.5 503.6,545.9 509.6,545.9C515.6,545.9 521.7,547.9 529.0,549.0C536.3,550.1 548.0,551.8 553.2,552.6C558.5,553.4 556.5,553.8 560.5,553.8C564.5,553.8 571.6,553.1 577.4,552.6C583.2,552.1 590.6,551.4 595.4,550.8C600.2,550.2 601.4,549.1 606.3,549.0C611.1,548.9 619.6,550.1 624.5,550.1C629.4,550.1 629.4,550.4 635.4,549.0C641.4,547.6 650.5,544.2 660.8,541.8C671.1,539.4 686.8,536.3 697.1,534.5C707.4,532.7 713.5,532.0 722.6,530.9C731.7,529.8 740.7,528.6 751.6,527.9C762.5,527.2 775.8,526.4 787.9,526.5C800.0,526.6 816.4,528.4 824.3,528.3C832.2,528.2 829.2,526.7 835.2,526.1C841.2,525.5 853.3,525.4 860.6,524.7C867.9,524.0 869.7,522.5 878.8,521.8C887.9,521.1 901.2,520.9 915.1,520.7C929.0,520.5 947.2,520.5 962.3,520.7C977.4,520.9 992.6,521.3 1005.9,521.8C1019.2,522.3 1030.1,523.3 1042.2,523.6C1054.3,523.9 1063.7,523.7 1078.5,523.6C1093.3,523.5 1121.5,521.7 1131.2,522.9C1140.9,524.1 1134.6,531.1 1136.7,530.9C1138.8,530.7 1141.8,523.0 1143.9,521.8C1146.0,520.6 1147.6,521.5 1149.4,523.6C1151.2,525.7 1152.7,535.2 1154.8,534.5C1156.9,533.8 1160.6,521.6 1162.1,519.2C1163.6,516.8 1162.4,518.5 1163.6,520.0C1164.8,521.5 1167.3,526.5 1169.1,528.3C1170.9,530.1 1173.0,529.8 1174.5,530.9C1176.0,532.0 1174.8,536.4 1178.1,535.2C1181.4,534.0 1185.7,525.4 1194.5,523.6C1203.3,521.8 1215.7,524.0 1230.8,524.3C1245.9,524.6 1265.3,525.6 1285.3,525.4C1305.3,525.2 1332.5,523.0 1350.7,522.9C1368.9,522.8 1381.0,525.2 1394.3,525.0C1407.6,524.8 1418.5,521.4 1430.6,521.8C1442.7,522.2 1456.6,526.5 1466.9,527.2C1477.2,527.9 1485.6,525.7 1492.3,525.8C1499.0,525.9 1503.3,527.4 1506.9,527.9C1510.5,528.4 1511.7,527.9 1514.1,529.0C1516.5,530.1 1519.0,533.7 1521.4,534.5C1523.8,535.3 1525.7,531.7 1528.7,533.8C1531.7,535.9 1535.7,543.3 1539.6,547.2C1543.5,551.1 1548.7,555.8 1552.3,557.0C1555.9,558.2 1557.5,557.4 1561.4,554.5C1565.3,551.6 1570.5,544.8 1575.9,539.9C1581.4,535.0 1588.6,527.2 1594.1,525.4C1599.5,523.6 1605.0,527.6 1608.6,529.0C1612.2,530.4 1610.3,531.4 1615.8,533.8C1621.2,536.2 1635.2,541.1 1641.3,543.6C1647.4,546.1 1647.4,547.3 1652.2,549.0C1657.0,550.7 1664.8,552.8 1670.3,553.7C1675.8,554.6 1679.5,555.4 1684.9,554.5C1690.4,553.6 1697.0,550.4 1703.0,548.3C1709.0,546.2 1716.4,544.1 1721.2,541.8C1726.0,539.5 1730.2,535.7 1732.1,534.5C1734.0,533.3 1729.0,536.0 1732.7,534.5C1736.4,533.0 1748.2,527.8 1754.5,525.8C1760.8,523.8 1765.3,523.0 1770.8,522.2C1776.2,521.4 1782.2,520.5 1787.2,520.9C1792.2,521.3 1797.2,523.1 1800.8,524.9C1804.4,526.7 1806.7,528.8 1809.0,531.8C1811.3,534.8 1812.8,539.8 1814.4,542.7C1816.0,545.7 1817.1,549.5 1818.5,549.5C1819.9,549.5 1821.0,545.4 1822.6,542.7C1824.2,540.0 1825.5,535.6 1828.0,533.1C1830.5,530.6 1834.9,527.7 1837.6,527.7C1840.3,527.7 1842.1,528.8 1844.4,533.1C1846.7,537.4 1849.4,547.4 1851.2,553.5C1853.0,559.6 1853.9,564.2 1855.3,569.9C1856.7,575.6 1857.8,584.2 1859.4,587.6C1861.0,591.0 1863.0,588.5 1864.8,590.3C1866.6,592.1 1868.5,595.8 1870.3,598.5C1872.1,601.2 1873.2,605.2 1875.7,606.7C1878.2,608.2 1882.7,605.9 1885.2,607.5C1887.7,609.1 1888.9,610.7 1890.7,616.2C1892.5,621.7 1894.1,628.9 1896.1,640.7C1898.1,652.5 1900.9,672.0 1902.9,687.0C1905.0,702.0 1906.8,718.8 1908.4,730.6C1910.0,742.4 1910.9,749.7 1912.5,757.9C1914.1,766.1 1916.1,774.2 1917.9,779.6C1919.7,785.0 1921.6,785.5 1923.4,790.5C1925.2,795.5 1927.2,802.3 1928.8,809.6C1930.4,816.9 1931.5,824.1 1932.9,834.1C1934.3,844.1 1935.6,858.6 1937.0,869.5C1938.4,880.4 1940.0,893.4 1941.1,899.5C1942.2,905.6 1942.7,910.4 1943.8,906.3C1944.9,902.2 1946.3,891.6 1947.9,875.0C1949.5,858.4 1951.5,829.6 1953.3,806.9C1955.1,784.2 1956.8,757.0 1958.8,738.8C1960.8,720.6 1963.6,712.9 1965.6,697.9C1967.6,682.9 1969.4,658.2 1971.0,648.9C1972.6,639.6 1973.5,641.0 1975.1,642.1C1976.7,643.2 1978.8,658.2 1980.6,655.7C1982.4,653.2 1984.2,635.5 1986.0,627.1C1987.8,618.7 1990.1,609.2 1991.5,605.3C1992.9,601.4 1992.9,602.5 1994.2,603.9C1995.5,605.3 1998.0,613.3 1999.6,613.5C2001.2,613.7 2001.9,613.0 2003.7,605.3C2005.5,597.6 2008.0,577.2 2010.5,567.2C2013.0,557.2 2016.0,550.2 2018.7,545.4C2021.4,540.6 2024.2,539.8 2026.9,538.6C2029.6,537.4 2032.6,536.9 2035.1,538.0C2037.6,539.1 2039.9,543.5 2041.9,545.4C2043.9,547.3 2045.3,549.3 2047.3,549.5C2049.3,549.7 2050.7,546.9 2054.1,546.7C2057.5,546.5 2063.1,547.0 2067.7,548.1C2072.2,549.2 2078.2,550.8 2081.4,553.5C2084.6,556.2 2085.0,564.5 2086.8,564.4C2088.6,564.3 2090.5,554.6 2092.3,553.0C2094.1,551.4 2095.9,551.9 2097.7,554.9C2099.5,557.9 2102.3,568.6 2103.2,571.3" fill="none" stroke="#000" stroke-opacity="0.27" stroke-width="4" stroke-linejoin="round" stroke-linecap="round"/>
<path d="M209.4,515.1C211.4,515.3 216.7,516.2 221.5,516.3C226.3,516.4 231.6,515.7 238.4,515.8C245.2,515.9 256.6,516.4 262.6,516.8C268.7,517.2 269.9,518.2 274.7,518.3C279.5,518.4 288.1,517.4 291.7,517.5C295.3,517.6 293.3,519.3 296.5,519.2C299.7,519.1 304.6,517.3 311.1,516.8C317.6,516.3 328.5,516.3 335.3,516.3C342.1,516.3 347.8,515.6 352.2,516.8C356.6,518.0 359.1,522.5 361.9,523.6C364.7,524.7 366.0,522.1 369.2,523.1C372.4,524.1 378.1,529.1 381.3,529.6C384.5,530.1 385.7,526.5 388.5,526.0C391.3,525.5 395.0,525.3 398.2,526.5C401.4,527.7 404.7,530.1 407.9,533.3C411.1,536.4 415.1,542.0 417.6,545.4C420.1,548.8 421.1,551.4 422.9,553.8C424.7,556.2 426.4,560.5 428.5,559.9C430.6,559.3 433.6,551.6 435.8,550.2C438.0,548.8 439.6,551.0 441.8,551.4C444.0,551.8 446.7,551.6 449.1,552.6C451.5,553.6 453.9,555.5 456.3,557.5C458.7,559.5 461.2,562.6 463.6,564.3C466.0,566.0 468.7,567.8 470.9,567.7C473.1,567.6 474.9,565.6 476.9,563.5C478.9,561.4 480.4,557.5 483.0,555.1C485.6,552.7 488.3,550.5 492.7,549.0C497.1,547.5 503.6,545.9 509.6,545.9C515.6,545.9 521.7,547.9 529.0,549.0C536.3,550.1 548.0,551.8 553.2,552.6C558.5,553.4 556.5,553.8 560.5,553.8C564.5,553.8 571.6,553.1 577.4,552.6C583.2,552.1 590.6,551.4 595.4,550.8C600.2,550.2 601.4,549.1 606.3,549.0C611.1,548.9 619.6,550.1 624.5,550.1C629.4,550.1 629.4,550.4 635.4,549.0C641.4,547.6 650.5,544.2 660.8,541.8C671.1,539.4 686.8,536.3 697.1,534.5C707.4,532.7 713.5,532.0 722.6,530.9C731.7,529.8 740.7,528.6 751.6,527.9C762.5,527.2 775.8,526.4 787.9,526.5C800.0,526.6 816.4,528.4 824.3,528.3C832.2,528.2 829.2,526.7 835.2,526.1C841.2,525.5 853.3,525.4 860.6,524.7C867.9,524.0 869.7,522.5 878.8,521.8C887.9,521.1 901.2,520.9 915.1,520.7C929.0,520.5 947.2,520.5 962.3,520.7C977.4,520.9 992.6,521.3 1005.9,521.8C1019.2,522.3 1030.1,523.3 1042.2,523.6C1054.3,523.9 1063.7,523.7 1078.5,523.6C1093.3,523.5 1121.5,521.7 1131.2,522.9C1140.9,524.1 1134.6,531.1 1136.7,530.9C1138.8,530.7 1141.8,523.0 1143.9,521.8C1146.0,520.6 1147.6,521.5 1149.4,523.6C1151.2,525.7 1152.7,535.2 1154.8,534.5C1156.9,533.8 1160.6,521.6 1162.1,519.2C1163.6,516.8 1162.4,518.5 1163.6,520.0C1164.8,521.5 1167.3,526.5 1169.1,528.3C1170.9,530.1 1173.0,529.8 1174.5,530.9C1176.0,532.0 1174.8,536.4 1178.1,535.2C1181.4,534.0 1185.7,525.4 1194.5,523.6C1203.3,521.8 1215.7,524.0 1230.8,524.3C1245.9,524.6 1265.3,525.6 1285.3,525.4C1305.3,525.2 1332.5,523.0 1350.7,522.9C1368.9,522.8 1381.0,525.2 1394.3,525.0C1407.6,524.8 1418.5,521.4 1430.6,521.8C1442.7,522.2 1456.6,526.5 1466.9,527.2C1477.2,527.9 1485.6,525.7 1492.3,525.8C1499.0,525.9 1503.3,527.4 1506.9,527.9C1510.5,528.4 1511.7,527.9 1514.1,529.0C1516.5,530.1 1519.0,533.7 1521.4,534.5C1523.8,535.3 1525.7,531.7 1528.7,533.8C1531.7,535.9 1535.7,543.3 1539.6,547.2C1543.5,551.1 1548.7,555.8 1552.3,557.0C1555.9,558.2 1557.5,557.4 1561.4,554.5C1565.3,551.6 1570.5,544.8 1575.9,539.9C1581.4,535.0 1588.6,527.2 1594.1,525.4C1599.5,523.6 1605.0,527.6 1608.6,529.0C1612.2,530.4 1610.3,531.4 1615.8,533.8C1621.2,536.2 1635.2,541.1 1641.3,543.6C1647.4,546.1 1647.4,547.3 1652.2,549.0C1657.0,550.7 1664.8,552.8 1670.3,553.7C1675.8,554.6 1679.5,555.4 1684.9,554.5C1690.4,553.6 1697.0,550.4 1703.0,548.3C1709.0,546.2 1716.4,544.1 1721.2,541.8C1726.0,539.5 1730.2,535.7 1732.1,534.5C1734.0,533.3 1729.0,536.0 1732.7,534.5C1736.4,533.0 1748.2,527.8 1754.5,525.8C1760.8,523.8 1765.3,523.0 1770.8,522.2C1776.2,521.4 1782.2,520.5 1787.2,520.9C1792.2,521.3 1797.2,523.1 1800.8,524.9C1804.4,526.7 1806.7,528.8 1809.0,531.8C1811.3,534.8 1812.8,539.8 1814.4,542.7C1816.0,545.7 1817.1,549.5 1818.5,549.5C1819.9,549.5 1821.0,545.4 1822.6,542.7C1824.2,540.0 1825.5,535.6 1828.0,533.1C1830.5,530.6 1834.9,527.7 1837.6,527.7C1840.3,527.7 1842.1,528.8 1844.4,533.1C1846.7,537.4 1849.4,547.4 1851.2,553.5C1853.0,559.6 1853.9,564.2 1855.3,569.9C1856.7,575.6 1857.8,584.2 1859.4,587.6C1861.0,591.0 1863.0,588.5 1864.8,590.3C1866.6,592.1 1868.5,595.8 1870.3,598.5C1872.1,601.2 1873.2,605.2 1875.7,606.7C1878.2,608.2 1882.7,605.9 1885.2,607.5C1887.7,609.1 1888.9,610.7 1890.7,616.2C1892.5,621.7 1894.1,628.9 1896.1,640.7C1898.1,652.5 1900.9,672.0 1902.9,687.0C1905.0,702.0 1906.8,718.8 1908.4,730.6C1910.0,742.4 1910.9,749.7 1912.5,757.9C1914.1,766.1 1916.1,774.2 1917.9,779.6C1919.7,785.0 1921.6,785.5 1923.4,790.5C1925.2,795.5 1927.2,802.3 1928.8,809.6C1930.4,816.9 1931.5,824.1 1932.9,834.1C1934.3,844.1 1935.6,858.6 1937.0,869.5C1938.4,880.4 1940.0,893.4 1941.1,899.5C1942.2,905.6 1942.7,910.4 1943.8,906.3C1944.9,902.2 1946.3,891.6 1947.9,875.0C1949.5,858.4 1951.5,829.6 1953.3,806.9C1955.1,784.2 1956.8,757.0 1958.8,738.8C1960.8,720.6 1963.6,712.9 1965.6,697.9C1967.6,682.9 1969.4,658.2 1971.0,648.9C1972.6,639.6 1973.5,641.0 1975.1,642.1C1976.7,643.2 1978.8,658.2 1980.6,655.7C1982.4,653.2 1984.2,635.5 1986.0,627.1C1987.8,618.7 1990.1,609.2 1991.5,605.3C1992.9,601.4 1992.9,602.5 1994.2,603.9C1995.5,605.3 1998.0,613.3 1999.6,613.5C2001.2,613.7 2001.9,613.0 2003.7,605.3C2005.5,597.6 2008.0,577.2 2010.5,567.2C2013.0,557.2 2016.0,550.2 2018.7,545.4C2021.4,540.6 2024.2,539.8 2026.9,538.6C2029.6,537.4 2032.6,536.9 2035.1,538.0C2037.6,539.1 2039.9,543.5 2041.9,545.4C2043.9,547.3 2045.3,549.3 2047.3,549.5C2049.3,549.7 2050.7,546.9 2054.1,546.7C2057.5,546.5 2063.1,547.0 2067.7,548.1C2072.2,549.2 2078.2,550.8 2081.4,553.5C2084.6,556.2 2085.0,564.5 2086.8,564.4C2088.6,564.3 2090.5,554.6 2092.3,553.0C2094.1,551.4 2095.9,551.9 2097.7,554.9C2099.5,557.9 2102.3,568.6 2103.2,571.3" fill="none" stroke="#4c4c4c" stroke-width="2" stroke-linejoin="round" stroke-linecap="round"/>
<path d="M210.0,903.6C212.7,903.7 220.6,904.5 226.3,904.3C232.1,904.1 238.4,902.7 244.5,902.5C250.6,902.3 257.8,902.6 262.6,902.9C267.4,903.2 269.2,904.4 273.5,904.3C277.8,904.2 280.8,903.4 288.1,902.5C295.4,901.6 306.8,899.8 317.1,899.2C327.4,898.7 341.9,898.4 349.8,899.2C357.7,900.1 359.5,903.7 364.4,904.3C369.2,904.9 372.2,903.9 378.9,902.9C385.5,901.9 397.6,897.4 404.3,898.1C411.0,898.8 412.1,904.5 418.8,907.2C425.5,909.9 436.4,912.0 444.3,914.5C452.2,917.0 460.1,920.0 466.1,922.5C472.2,925.0 475.2,927.1 480.6,929.7C486.1,932.3 491.5,934.7 498.8,938.1C506.1,941.5 515.1,947.1 524.2,950.1C533.3,953.1 544.7,954.3 553.2,956.3C561.7,958.3 567.7,961.7 575.0,962.1C582.3,962.5 590.7,959.0 596.8,958.8C602.9,958.6 606.5,961.4 611.4,961.0C616.2,960.6 618.6,958.3 625.9,956.3C633.1,954.3 645.8,951.1 654.9,949.0C664.0,946.9 671.9,945.6 680.4,943.5C688.9,941.4 696.7,938.6 705.8,936.3C714.9,934.0 725.2,932.1 734.9,929.7C744.6,927.3 756.6,923.6 763.9,921.8C771.1,920.0 775.4,919.3 778.4,918.8C781.4,918.3 778.8,918.4 781.8,918.8C784.8,919.2 790.8,919.0 796.3,921.0C801.8,923.0 809.0,927.5 814.5,930.8C820.0,934.1 825.7,939.6 829.0,940.6C832.3,941.6 832.1,937.6 834.5,937.0C836.9,936.4 840.2,936.6 843.5,937.0C846.8,937.4 850.8,939.1 854.4,939.2C858.0,939.3 861.7,939.7 865.3,937.4C868.9,935.1 872.0,928.3 876.2,925.4C880.5,922.5 882.9,921.4 890.8,919.9C898.7,918.4 909.0,917.7 923.5,916.3C938.0,914.9 956.7,912.9 977.9,911.6C999.1,910.3 1026.4,909.3 1050.6,908.3C1074.8,907.3 1109.6,905.6 1123.2,905.4C1136.8,905.2 1129.9,906.3 1132.3,907.2C1134.7,908.1 1136.3,911.6 1137.8,910.9C1139.3,910.2 1138.7,902.4 1141.4,902.9C1144.1,903.4 1150.8,914.3 1154.1,913.8C1157.4,913.3 1158.7,900.8 1161.4,900.0C1164.1,899.2 1167.5,906.6 1170.5,909.0C1173.5,911.4 1175.9,915.1 1179.5,914.5C1183.1,913.9 1186.5,907.0 1192.3,905.4C1198.1,903.8 1202.6,904.5 1214.1,905.0C1225.6,905.5 1246.2,908.5 1261.3,908.3C1276.4,908.1 1291.6,905.3 1304.9,903.6C1318.2,901.9 1330.8,899.0 1341.2,898.1C1351.6,897.2 1357.4,898.3 1367.2,898.1C1377.0,897.9 1389.9,897.6 1399.9,896.8C1409.9,896.0 1420.8,893.8 1427.2,893.2C1433.6,892.6 1430.8,892.7 1438.1,893.2C1445.4,893.7 1461.7,895.6 1470.8,896.2C1479.9,896.8 1487.1,896.0 1492.5,896.8C1497.9,897.6 1499.8,900.0 1503.4,900.9C1507.0,901.8 1511.6,901.2 1514.3,902.2C1517.0,903.2 1517.1,905.8 1519.8,906.9C1522.5,908.0 1527.5,907.5 1530.7,909.0C1533.9,910.5 1536.2,913.1 1538.9,915.8C1541.6,918.5 1544.3,922.9 1547.0,925.4C1549.7,927.9 1551.6,930.3 1555.2,930.8C1558.8,931.3 1565.2,928.5 1568.8,928.6C1572.4,928.7 1573.8,930.4 1577.0,931.4C1580.2,932.4 1584.5,934.3 1587.9,934.9C1591.3,935.5 1594.2,935.7 1597.4,934.9C1600.6,934.1 1603.6,931.9 1607.0,930.3C1610.4,928.7 1614.7,927.6 1617.9,925.4C1621.1,923.2 1622.8,919.1 1626.0,917.2C1629.2,915.3 1633.7,915.0 1636.9,913.9C1640.1,912.8 1642.4,910.6 1645.1,910.4C1647.8,910.2 1650.6,911.0 1653.3,912.6C1656.0,914.2 1657.8,917.9 1661.4,919.9C1665.0,921.9 1670.5,922.9 1675.1,924.8C1679.6,926.7 1685.1,931.1 1688.7,931.4C1692.3,931.7 1694.2,926.6 1696.9,926.7C1699.6,926.8 1702.0,930.1 1705.0,932.2C1708.0,934.3 1711.9,939.0 1714.6,939.5C1717.3,940.0 1718.5,936.9 1721.4,934.9C1724.4,932.9 1729.1,928.6 1732.3,927.6C1735.5,926.6 1737.7,928.0 1740.4,928.6C1743.1,929.2 1745.9,931.9 1748.6,931.4C1751.3,930.9 1753.2,928.6 1756.8,925.4C1760.4,922.2 1766.8,914.1 1770.4,912.3C1774.0,910.5 1775.9,914.4 1778.6,914.5C1781.3,914.6 1784.5,913.6 1786.7,913.1C1788.9,912.6 1789.1,912.0 1791.8,911.2C1794.5,910.4 1799.8,909.5 1802.7,908.4C1805.6,907.3 1805.9,905.3 1809.2,904.7C1812.5,904.1 1819.2,904.2 1822.3,904.7C1825.4,905.2 1825.9,905.5 1827.7,907.9C1829.5,910.2 1831.6,914.1 1833.2,918.8C1834.8,923.5 1836.0,931.4 1837.6,936.3C1839.2,941.2 1841.4,947.6 1843.0,948.3C1844.6,949.0 1846.0,943.0 1847.4,940.6C1848.9,938.2 1850.1,934.6 1851.7,934.1C1853.3,933.6 1854.8,934.1 1857.2,937.4C1859.6,940.7 1863.7,949.2 1865.9,953.7C1868.1,958.2 1868.8,959.9 1870.2,964.6C1871.7,969.3 1872.4,975.8 1874.6,982.0C1876.8,988.2 1880.4,995.2 1883.3,1001.6C1886.2,1008.0 1889.8,1016.2 1892.0,1020.2C1894.2,1024.2 1894.6,1024.9 1896.4,1025.6C1898.2,1026.3 1900.7,1023.0 1902.9,1024.5C1905.1,1026.0 1907.7,1031.8 1909.5,1034.3C1911.3,1036.8 1912.3,1039.8 1913.8,1039.8C1915.2,1039.8 1916.8,1036.7 1918.2,1034.3C1919.7,1031.9 1920.3,1028.5 1922.5,1025.6C1924.7,1022.7 1928.4,1020.2 1931.3,1016.9C1934.2,1013.6 1937.8,1009.6 1940.0,1006.0C1942.2,1002.4 1943.0,998.9 1944.3,995.1C1945.6,991.3 1946.1,986.7 1947.6,983.1C1949.0,979.5 1950.6,976.0 1953.0,973.3C1955.4,970.6 1959.2,968.6 1961.8,966.8C1964.3,965.0 1965.4,965.3 1968.3,962.4C1971.2,959.5 1976.3,950.8 1979.2,949.3C1982.1,947.8 1983.7,952.1 1985.7,953.7C1987.7,955.4 1989.4,959.9 1991.2,959.2C1993.0,958.5 1994.2,953.8 1996.6,949.3C1998.9,944.8 2002.4,936.1 2005.3,931.9C2008.2,927.7 2009.7,926.7 2014.1,924.3C2018.5,921.9 2025.7,918.4 2031.5,917.7C2037.3,917.0 2045.3,919.8 2048.9,919.9C2052.5,920.0 2048.9,917.8 2053.3,918.4C2057.7,919.0 2069.3,921.3 2075.1,923.2C2080.9,925.1 2084.9,928.1 2088.2,929.7C2091.5,931.3 2092.5,932.1 2094.7,933.0C2096.9,933.9 2099.9,931.2 2101.2,935.2C2102.5,939.2 2102.1,953.4 2102.3,957.0" fill="none" stroke="#000" stroke-opacity="0.27" stroke-width="4" stroke-linejoin="round" stroke-linecap="round"/>
<path d="M210.0,903.6C212.7,903.7 220.6,904.5 226.3,904.3C232.1,904.1 238.4,902.7 244.5,902.5C250.6,902.3 257.8,902.6 262.6,902.9C267.4,903.2 269.2,904.4 273.5,904.3C277.8,904.2 280.8,903.4 288.1,902.5C295.4,901.6 306.8,899.8 317.1,899.2C327.4,898.7 341.9,898.4 349.8,899.2C357.7,900.1 359.5,903.7 364.4,904.3C369.2,904.9 372.2,903.9 378.9,902.9C385.5,901.9 397.6,897.4 404.3,898.1C411.0,898.8 412.1,904.5 418.8,907.2C425.5,909.9 436.4,912.0 444.3,914.5C452.2,917.0 460.1,920.0 466.1,922.5C472.2,925.0 475.2,927.1 480.6,929.7C486.1,932.3 491.5,934.7 498.8,938.1C506.1,941.5 515.1,947.1 524.2,950.1C533.3,953.1 544.7,954.3 553.2,956.3C561.7,958.3 567.7,961.7 575.0,962.1C582.3,962.5 590.7,959.0 596.8,958.8C602.9,958.6 606.5,961.4 611.4,961.0C616.2,960.6 618.6,958.3 625.9,956.3C633.1,954.3 645.8,951.1 654.9,949.0C664.0,946.9 671.9,945.6 680.4,943.5C688.9,941.4 696.7,938.6 705.8,936.3C714.9,934.0 725.2,932.1 734.9,929.7C744.6,927.3 756.6,923.6 763.9,921.8C771.1,920.0 775.4,919.3 778.4,918.8C781.4,918.3 778.8,918.4 781.8,918.8C784.8,919.2 790.8,919.0 796.3,921.0C801.8,923.0 809.0,927.5 814.5,930.8C820.0,934.1 825.7,939.6 829.0,940.6C832.3,941.6 832.1,937.6 834.5,937.0C836.9,936.4 840.2,936.6 843.5,937.0C846.8,937.4 850.8,939.1 854.4,939.2C858.0,939.3 861.7,939.7 865.3,937.4C868.9,935.1 872.0,928.3 876.2,925.4C880.5,922.5 882.9,921.4 890.8,919.9C898.7,918.4 909.0,917.7 923.5,916.3C938.0,914.9 956.7,912.9 977.9,911.6C999.1,910.3 1026.4,909.3 1050.6,908.3C1074.8,907.3 1109.6,905.6 1123.2,905.4C1136.8,905.2 1129.9,906.3 1132.3,907.2C1134.7,908.1 1136.3,911.6 1137.8,910.9C1139.3,910.2 1138.7,902.4 1141.4,902.9C1144.1,903.4 1150.8,914.3 1154.1,913.8C1157.4,913.3 1158.7,900.8 1161.4,900.0C1164.1,899.2 1167.5,906.6 1170.5,909.0C1173.5,911.4 1175.9,915.1 1179.5,914.5C1183.1,913.9 1186.5,907.0 1192.3,905.4C1198.1,903.8 1202.6,904.5 1214.1,905.0C1225.6,905.5 1246.2,908.5 1261.3,908.3C1276.4,908.1 1291.6,905.3 1304.9,903.6C1318.2,901.9 1330.8,899.0 1341.2,898.1C1351.6,897.2 1357.4,898.3 1367.2,898.1C1377.0,897.9 1389.9,897.6 1399.9,896.8C1409.9,896.0 1420.8,893.8 1427.2,893.2C1433.6,892.6 1430.8,892.7 1438.1,893.2C1445.4,893.7 1461.7,895.6 1470.8,896.2C1479.9,896.8 1487.1,896.0 1492.5,896.8C1497.9,897.6 1499.8,900.0 1503.4,900.9C1507.0,901.8 1511.6,901.2 1514.3,902.2C1517.0,903.2 1517.1,905.8 1519.8,906.9C1522.5,908.0 1527.5,907.5 1530.7,909.0C1533.9,910.5 1536.2,913.1 1538.9,915.8C1541.6,918.5 1544.3,922.9 1547.0,925.4C1549.7,927.9 1551.6,930.3 1555.2,930.8C1558.8,931.3 1565.2,928.5 1568.8,928.6C1572.4,928.7 1573.8,930.4 1577.0,931.4C1580.2,932.4 1584.5,934.3 1587.9,934.9C1591.3,935.5 1594.2,935.7 1597.4,934.9C1600.6,934.1 1603.6,931.9 1607.0,930.3C1610.4,928.7 1614.7,927.6 1617.9,925.4C1621.1,923.2 1622.8,919.1 1626.0,917.2C1629.2,915.3 1633.7,915.0 1636.9,913.9C1640.1,912.8 1642.4,910.6 1645.1,910.4C1647.8,910.2 1650.6,911.0 1653.3,912.6C1656.0,914.2 1657.8,917.9 1661.4,919.9C1665.0,921.9 1670.5,922.9 1675.1,924.8C1679.6,926.7 1685.1,931.1 1688.7,931.4C1692.3,931.7 1694.2,926.6 1696.9,926.7C1699.6,926.8 1702.0,930.1 1705.0,932.2C1708.0,934.3 1711.9,939.0 1714.6,939.5C1717.3,940.0 1718.5,936.9 1721.4,934.9C1724.4,932.9 1729.1,928.6 1732.3,927.6C1735.5,926.6 1737.7,928.0 1740.4,928.6C1743.1,929.2 1745.9,931.9 1748.6,931.4C1751.3,930.9 1753.2,928.6 1756.8,925.4C1760.4,922.2 1766.8,914.1 1770.4,912.3C1774.0,910.5 1775.9,914.4 1778.6,914.5C1781.3,914.6 1784.5,913.6 1786.7,913.1C1788.9,912.6 1789.1,912.0 1791.8,911.2C1794.5,910.4 1799.8,909.5 1802.7,908.4C1805.6,907.3 1805.9,905.3 1809.2,904.7C1812.5,904.1 1819.2,904.2 1822.3,904.7C1825.4,905.2 1825.9,905.5 1827.7,907.9C1829.5,910.2 1831.6,914.1 1833.2,918.8C1834.8,923.5 1836.0,931.4 1837.6,936.3C1839.2,941.2 1841.4,947.6 1843.0,948.3C1844.6,949.0 1846.0,943.0 1847.4,940.6C1848.9,938.2 1850.1,934.6 1851.7,934.1C1853.3,933.6 1854.8,934.1 1857.2,937.4C1859.6,940.7 1863.7,949.2 1865.9,953.7C1868.1,958.2 1868.8,959.9 1870.2,964.6C1871.7,969.3 1872.4,975.8 1874.6,982.0C1876.8,988.2 1880.4,995.2 1883.3,1001.6C1886.2,1008.0 1889.8,1016.2 1892.0,1020.2C1894.2,1024.2 1894.6,1024.9 1896.4,1025.6C1898.2,1026.3 1900.7,1023.0 1902.9,1024.5C1905.1,1026.0 1907.7,1031.8 1909.5,1034.3C1911.3,1036.8 1912.3,1039.8 1913.8,1039.8C1915.2,1039.8 1916.8,1036.7 1918.2,1034.3C1919.7,1031.9 1920.3,1028.5 1922.5,1025.6C1924.7,1022.7 1928.4,1020.2 1931.3,1016.9C1934.2,1013.6 1937.8,1009.6 1940.0,1006.0C1942.2,1002.4 1943.0,998.9 1944.3,995.1C1945.6,991.3 1946.1,986.7 1947.6,983.1C1949.0,979.5 1950.6,976.0 1953.0,973.3C1955.4,970.6 1959.2,968.6 1961.8,966.8C1964.3,965.0 1965.4,965.3 1968.3,962.4C1971.2,959.5 1976.3,950.8 1979.2,949.3C1982.1,947.8 1983.7,952.1 1985.7,953.7C1987.7,955.4 1989.4,959.9 1991.2,959.2C1993.0,958.5 1994.2,953.8 1996.6,949.3C1998.9,944.8 2002.4,936.1 2005.3,931.9C2008.2,927.7 2009.7,926.7 2014.1,924.3C2018.5,921.9 2025.7,918.4 2031.5,917.7C2037.3,917.0 2045.3,919.8 2048.9,919.9C2052.5,920.0 2048.9,917.8 2053.3,918.4C2057.7,919.0 2069.3,921.3 2075.1,923.2C2080.9,925.1 2084.9,928.1 2088.2,929.7C2091.5,931.3 2092.5,932.1 2094.7,933.0C2096.9,933.9 2099.9,931.2 2101.2,935.2C2102.5,939.2 2102.1,953.4 2102.3,957.0" fill="none" stroke="#4c4c4c" stroke-width="2" stroke-linejoin="round" stroke-linecap="round"/>
<path d="M272.1,1826.3C275.1,1826.0 282.2,1825.4 290.3,1824.8C298.4,1824.2 310.4,1823.2 320.5,1822.7C330.6,1822.2 340.7,1822.2 350.8,1821.8C360.9,1821.4 370.0,1820.7 381.1,1820.3C392.2,1819.9 407.3,1819.4 417.4,1819.4C427.5,1819.4 433.5,1819.9 441.6,1820.3C449.7,1820.7 459.8,1820.9 465.8,1821.8C471.9,1822.7 472.8,1823.4 477.9,1825.7C482.9,1828.0 489.5,1831.8 496.1,1835.4C502.7,1839.0 508.7,1841.7 517.3,1847.5C525.9,1853.3 538.9,1863.4 547.5,1870.2C556.1,1877.0 561.1,1881.6 568.7,1888.4C576.3,1895.2 584.8,1904.8 592.9,1911.1C601.0,1917.4 608.0,1921.3 617.1,1926.2C626.2,1931.1 638.3,1937.9 647.4,1940.4C656.5,1942.9 663.5,1940.6 671.6,1941.3C679.7,1942.0 687.7,1944.9 695.8,1944.4C703.9,1943.9 711.9,1940.6 720.0,1938.3C728.1,1936.0 738.4,1932.0 744.3,1930.7C750.1,1929.4 750.8,1931.9 755.1,1930.7C759.4,1929.5 764.2,1926.1 770.3,1923.8C776.4,1921.5 785.5,1918.7 791.5,1917.1C797.5,1915.5 800.1,1915.9 806.6,1914.1C813.1,1912.3 822.2,1908.8 830.8,1906.5C839.4,1904.2 851.5,1900.8 858.0,1900.5C864.5,1900.2 866.1,1903.4 870.1,1904.4C874.1,1905.4 878.8,1905.4 882.3,1906.5C885.8,1907.6 887.8,1909.3 891.3,1911.1C894.8,1912.9 899.9,1916.8 903.4,1917.1C906.9,1917.3 909.5,1913.1 912.5,1912.6C915.5,1912.1 918.6,1913.1 921.6,1914.1C924.6,1915.1 927.7,1918.5 930.7,1918.6C933.7,1918.7 936.8,1916.0 939.8,1914.7C942.8,1913.5 945.8,1913.2 948.8,1911.1C951.8,1909.0 952.3,1905.6 957.9,1902.0C963.5,1898.4 973.0,1893.1 982.1,1889.3C991.2,1885.5 1001.3,1882.6 1012.4,1879.3C1023.5,1876.0 1038.6,1872.5 1048.7,1869.3C1058.8,1866.1 1064.8,1862.8 1072.9,1860.2C1081.0,1857.6 1087.0,1855.1 1097.1,1853.6C1107.2,1852.1 1122.4,1852.1 1133.5,1851.1C1144.6,1850.1 1154.6,1849.0 1163.7,1847.5C1172.8,1846.0 1179.8,1843.7 1187.9,1842.1C1196.0,1840.5 1205.1,1838.8 1212.2,1837.8C1219.3,1836.8 1226.0,1836.2 1230.3,1836.0C1234.6,1835.8 1234.9,1837.1 1238.2,1836.9C1241.5,1836.7 1243.2,1835.9 1250.3,1834.8C1257.3,1833.7 1270.4,1831.1 1280.5,1830.3C1290.6,1829.5 1300.7,1829.8 1310.8,1830.0C1320.9,1830.2 1330.0,1830.9 1341.1,1831.8C1352.2,1832.7 1366.3,1835.2 1377.4,1835.4C1388.5,1835.6 1396.1,1834.3 1407.7,1833.0C1419.3,1831.7 1432.9,1828.9 1447.0,1827.8C1461.1,1826.7 1479.8,1826.8 1492.4,1826.3C1505.0,1825.8 1512.6,1824.4 1522.7,1824.8C1532.8,1825.2 1542.8,1828.3 1552.9,1828.4C1563.0,1828.5 1573.6,1825.8 1583.2,1825.4C1592.8,1825.1 1603.9,1825.1 1610.4,1826.3C1617.0,1827.5 1619.0,1829.6 1622.5,1832.4C1626.0,1835.2 1628.6,1838.0 1631.6,1843.0C1634.6,1848.0 1637.7,1855.3 1640.7,1862.6C1643.7,1869.9 1646.8,1880.3 1649.8,1886.9C1652.8,1893.5 1655.9,1899.0 1658.9,1902.0C1661.9,1905.0 1664.4,1904.2 1667.9,1905.0C1671.4,1905.8 1676.5,1905.0 1680.0,1906.5C1683.5,1908.0 1686.3,1909.8 1689.1,1914.1C1691.9,1918.4 1694.4,1925.2 1696.7,1932.3C1699.0,1939.4 1701.2,1951.0 1702.7,1956.5C1704.2,1962.0 1704.9,1964.2 1705.8,1965.5C1706.7,1966.8 1707.2,1961.0 1707.9,1964.0C1708.7,1967.0 1709.2,1981.5 1710.3,1983.7C1711.4,1985.9 1712.7,1979.0 1714.5,1977.0C1716.3,1975.0 1718.8,1974.9 1720.9,1971.6C1723.0,1968.3 1724.9,1962.5 1727.2,1957.1C1729.5,1951.6 1732.1,1945.6 1734.5,1938.9C1736.9,1932.2 1739.3,1924.1 1741.7,1917.1C1744.1,1910.1 1746.9,1901.8 1749.0,1897.1C1751.1,1892.4 1752.7,1889.3 1754.5,1889.0C1756.3,1888.7 1757.8,1893.0 1759.9,1895.3C1762.0,1897.6 1764.8,1900.8 1767.2,1902.6C1769.6,1904.4 1772.1,1904.1 1774.4,1906.2C1776.7,1908.3 1778.7,1910.5 1780.8,1915.3C1782.9,1920.1 1785.1,1928.3 1787.1,1935.3C1789.1,1942.3 1790.6,1951.0 1792.6,1957.1C1794.6,1963.1 1796.8,1971.6 1798.9,1971.6C1801.0,1971.6 1803.3,1960.4 1805.3,1957.1C1807.3,1953.8 1808.6,1953.4 1810.7,1951.6C1812.8,1949.8 1816.2,1948.9 1818.0,1946.2C1819.8,1943.5 1820.1,1940.8 1821.6,1935.3C1823.1,1929.8 1825.0,1920.2 1827.1,1913.5C1829.2,1906.8 1832.5,1898.6 1834.3,1895.3C1836.1,1892.0 1835.9,1894.1 1838.0,1893.9C1840.1,1893.7 1844.4,1894.7 1847.1,1893.9C1849.8,1893.1 1852.0,1891.2 1854.3,1889.0C1856.6,1886.8 1858.9,1884.6 1860.7,1880.8C1862.5,1877.0 1863.5,1871.4 1865.2,1866.3C1866.9,1861.2 1869.0,1853.6 1870.7,1849.9C1872.4,1846.2 1873.4,1844.4 1875.2,1844.1C1877.0,1843.8 1879.6,1847.1 1881.6,1848.1C1883.6,1849.1 1885.2,1850.2 1887.0,1849.9C1888.8,1849.6 1890.1,1848.4 1892.5,1846.3C1894.9,1844.2 1897.9,1839.8 1901.5,1837.2C1905.1,1834.6 1910.3,1831.7 1914.2,1830.9C1918.1,1830.2 1922.4,1831.7 1925.1,1832.7C1927.8,1833.8 1928.8,1834.3 1930.6,1837.2C1932.4,1840.1 1934.2,1843.6 1936.0,1849.9C1937.8,1856.2 1940.0,1867.1 1941.5,1875.3C1943.0,1883.5 1943.9,1891.3 1945.1,1899.0C1946.3,1906.7 1947.5,1918.2 1948.7,1921.7C1949.9,1925.2 1951.0,1923.6 1952.4,1919.8C1953.8,1916.0 1955.4,1901.9 1956.9,1899.0C1958.4,1896.1 1959.8,1899.0 1961.5,1902.6C1963.2,1906.2 1965.1,1914.0 1966.9,1920.7C1968.7,1927.4 1970.9,1934.6 1972.4,1942.5C1973.9,1950.4 1975.0,1958.6 1976.0,1968.0C1977.0,1977.4 1977.7,1990.6 1978.7,1998.8C1979.7,2007.0 1981.2,2013.5 1981.8,2017.0C1982.4,2020.5 1981.4,2013.9 1982.3,2020.0C1983.2,2026.1 1985.4,2043.7 1987.0,2053.8C1988.6,2064.0 1990.2,2073.0 1991.8,2080.9C1993.4,2088.8 1994.8,2095.6 1996.5,2101.1C1998.2,2106.6 2000.3,2113.4 2001.9,2114.0C2003.5,2114.6 2004.7,2107.2 2006.0,2104.5C2007.3,2101.8 2008.7,2099.0 2010.0,2097.8C2011.3,2096.6 2012.8,2096.3 2014.1,2097.1C2015.4,2097.9 2016.5,2100.0 2018.1,2102.5C2019.7,2105.0 2022.0,2111.1 2023.6,2112.0C2025.2,2112.9 2026.2,2111.4 2027.6,2107.9C2028.9,2104.4 2030.2,2097.8 2031.7,2091.0C2033.2,2084.2 2034.8,2074.1 2036.4,2067.3C2038.0,2060.5 2039.4,2058.3 2041.1,2050.4C2042.8,2042.5 2044.9,2031.6 2046.5,2020.0C2048.1,2008.4 2049.2,1991.8 2050.8,1980.7C2052.4,1969.6 2054.1,1961.6 2056.2,1953.4C2058.3,1945.2 2061.1,1936.4 2063.5,1931.6C2065.9,1926.8 2068.6,1928.3 2070.7,1924.4C2072.8,1920.5 2074.1,1912.8 2076.2,1908.0C2078.3,1903.2 2081.1,1900.6 2083.5,1895.3C2085.9,1890.0 2088.1,1877.8 2090.7,1876.3C2093.3,1874.8 2096.8,1885.8 2098.9,1886.2C2101.0,1886.7 2101.4,1885.3 2103.4,1879.0C2105.4,1872.7 2108.6,1855.2 2110.7,1848.1C2112.8,1841.0 2113.7,1838.9 2116.1,1836.3C2118.5,1833.7 2121.9,1832.5 2125.2,1832.7C2128.5,1832.9 2132.8,1835.9 2136.1,1837.2C2139.4,1838.5 2141.6,1838.1 2145.2,1840.8C2148.8,1843.5 2153.7,1849.3 2157.9,1853.6C2162.1,1857.8 2166.7,1863.3 2170.6,1866.3C2174.5,1869.3 2178.5,1869.6 2181.5,1871.7C2184.5,1873.8 2186.1,1876.6 2188.8,1879.0C2191.5,1881.4 2195.2,1883.5 2197.9,1886.2C2200.6,1888.9 2203.0,1892.6 2205.1,1895.3C2207.2,1898.0 2209.7,1901.4 2210.6,1902.6" fill="none" stroke="#000" stroke-opacity="0.27" stroke-width="4" stroke-linejoin="round" stroke-linecap="round"/>
<path d="M272.1,1826.3C275.1,1826.0 282.2,1825.4 290.3,1824.8C298.4,1824.2 310.4,1823.2 320.5,1822.7C330.6,1822.2 340.7,1822.2 350.8,1821.8C360.9,1821.4 370.0,1820.7 381.1,1820.3C392.2,1819.9 407.3,1819.4 417.4,1819.4C427.5,1819.4 433.5,1819.9 441.6,1820.3C449.7,1820.7 459.8,1820.9 465.8,1821.8C471.9,1822.7 472.8,1823.4 477.9,1825.7C482.9,1828.0 489.5,1831.8 496.1,1835.4C502.7,1839.0 508.7,1841.7 517.3,1847.5C525.9,1853.3 538.9,1863.4 547.5,1870.2C556.1,1877.0 561.1,1881.6 568.7,1888.4C576.3,1895.2 584.8,1904.8 592.9,1911.1C601.0,1917.4 608.0,1921.3 617.1,1926.2C626.2,1931.1 638.3,1937.9 647.4,1940.4C656.5,1942.9 663.5,1940.6 671.6,1941.3C679.7,1942.0 687.7,1944.9 695.8,1944.4C703.9,1943.9 711.9,1940.6 720.0,1938.3C728.1,1936.0 738.4,1932.0 744.3,1930.7C750.1,1929.4 750.8,1931.9 755.1,1930.7C759.4,1929.5 764.2,1926.1 770.3,1923.8C776.4,1921.5 785.5,1918.7 791.5,1917.1C797.5,1915.5 800.1,1915.9 806.6,1914.1C813.1,1912.3 822.2,1908.8 830.8,1906.5C839.4,1904.2 851.5,1900.8 858.0,1900.5C864.5,1900.2 866.1,1903.4 870.1,1904.4C874.1,1905.4 878.8,1905.4 882.3,1906.5C885.8,1907.6 887.8,1909.3 891.3,1911.1C894.8,1912.9 899.9,1916.8 903.4,1917.1C906.9,1917.3 909.5,1913.1 912.5,1912.6C915.5,1912.1 918.6,1913.1 921.6,1914.1C924.6,1915.1 927.7,1918.5 930.7,1918.6C933.7,1918.7 936.8,1916.0 939.8,1914.7C942.8,1913.5 945.8,1913.2 948.8,1911.1C951.8,1909.0 952.3,1905.6 957.9,1902.0C963.5,1898.4 973.0,1893.1 982.1,1889.3C991.2,1885.5 1001.3,1882.6 1012.4,1879.3C1023.5,1876.0 1038.6,1872.5 1048.7,1869.3C1058.8,1866.1 1064.8,1862.8 1072.9,1860.2C1081.0,1857.6 1087.0,1855.1 1097.1,1853.6C1107.2,1852.1 1122.4,1852.1 1133.5,1851.1C1144.6,1850.1 1154.6,1849.0 1163.7,1847.5C1172.8,1846.0 1179.8,1843.7 1187.9,1842.1C1196.0,1840.5 1205.1,1838.8 1212.2,1837.8C1219.3,1836.8 1226.0,1836.2 1230.3,1836.0C1234.6,1835.8 1234.9,1837.1 1238.2,1836.9C1241.5,1836.7 1243.2,1835.9 1250.3,1834.8C1257.3,1833.7 1270.4,1831.1 1280.5,1830.3C1290.6,1829.5 1300.7,1829.8 1310.8,1830.0C1320.9,1830.2 1330.0,1830.9 1341.1,1831.8C1352.2,1832.7 1366.3,1835.2 1377.4,1835.4C1388.5,1835.6 1396.1,1834.3 1407.7,1833.0C1419.3,1831.7 1432.9,1828.9 1447.0,1827.8C1461.1,1826.7 1479.8,1826.8 1492.4,1826.3C1505.0,1825.8 1512.6,1824.4 1522.7,1824.8C1532.8,1825.2 1542.8,1828.3 1552.9,1828.4C1563.0,1828.5 1573.6,1825.8 1583.2,1825.4C1592.8,1825.1 1603.9,1825.1 1610.4,1826.3C1617.0,1827.5 1619.0,1829.6 1622.5,1832.4C1626.0,1835.2 1628.6,1838.0 1631.6,1843.0C1634.6,1848.0 1637.7,1855.3 1640.7,1862.6C1643.7,1869.9 1646.8,1880.3 1649.8,1886.9C1652.8,1893.5 1655.9,1899.0 1658.9,1902.0C1661.9,1905.0 1664.4,1904.2 1667.9,1905.0C1671.4,1905.8 1676.5,1905.0 1680.0,1906.5C1683.5,1908.0 1686.3,1909.8 1689.1,1914.1C1691.9,1918.4 1694.4,1925.2 1696.7,1932.3C1699.0,1939.4 1701.2,1951.0 1702.7,1956.5C1704.2,1962.0 1704.9,1964.2 1705.8,1965.5C1706.7,1966.8 1707.2,1961.0 1707.9,1964.0C1708.7,1967.0 1709.2,1981.5 1710.3,1983.7C1711.4,1985.9 1712.7,1979.0 1714.5,1977.0C1716.3,1975.0 1718.8,1974.9 1720.9,1971.6C1723.0,1968.3 1724.9,1962.5 1727.2,1957.1C1729.5,1951.6 1732.1,1945.6 1734.5,1938.9C1736.9,1932.2 1739.3,1924.1 1741.7,1917.1C1744.1,1910.1 1746.9,1901.8 1749.0,1897.1C1751.1,1892.4 1752.7,1889.3 1754.5,1889.0C1756.3,1888.7 1757.8,1893.0 1759.9,1895.3C1762.0,1897.6 1764.8,1900.8 1767.2,1902.6C1769.6,1904.4 1772.1,1904.1 1774.4,1906.2C1776.7,1908.3 1778.7,1910.5 1780.8,1915.3C1782.9,1920.1 1785.1,1928.3 1787.1,1935.3C1789.1,1942.3 1790.6,1951.0 1792.6,1957.1C1794.6,1963.1 1796.8,1971.6 1798.9,1971.6C1801.0,1971.6 1803.3,1960.4 1805.3,1957.1C1807.3,1953.8 1808.6,1953.4 1810.7,1951.6C1812.8,1949.8 1816.2,1948.9 1818.0,1946.2C1819.8,1943.5 1820.1,1940.8 1821.6,1935.3C1823.1,1929.8 1825.0,1920.2 1827.1,1913.5C1829.2,1906.8 1832.5,1898.6 1834.3,1895.3C1836.1,1892.0 1835.9,1894.1 1838.0,1893.9C1840.1,1893.7 1844.4,1894.7 1847.1,1893.9C1849.8,1893.1 1852.0,1891.2 1854.3,1889.0C1856.6,1886.8 1858.9,1884.6 1860.7,1880.8C1862.5,1877.0 1863.5,1871.4 1865.2,1866.3C1866.9,1861.2 1869.0,1853.6 1870.7,1849.9C1872.4,1846.2 1873.4,1844.4 1875.2,1844.1C1877.0,1843.8 1879.6,1847.1 1881.6,1848.1C1883.6,1849.1 1885.2,1850.2 1887.0,1849.9C1888.8,1849.6 1890.1,1848.4 1892.5,1846.3C1894.9,1844.2 1897.9,1839.8 1901.5,1837.2C1905.1,1834.6 1910.3,1831.7 1914.2,1830.9C1918.1,1830.2 1922.4,1831.7 1925.1,1832.7C1927.8,1833.8 1928.8,1834.3 1930.6,1837.2C1932.4,1840.1 1934.2,1843.6 1936.0,1849.9C1937.8,1856.2 1940.0,1867.1 1941.5,1875.3C1943.0,1883.5 1943.9,1891.3 1945.1,1899.0C1946.3,1906.7 1947.5,1918.2 1948.7,1921.7C1949.9,1925.2 1951.0,1923.6 1952.4,1919.8C1953.8,1916.0 1955.4,1901.9 1956.9,1899.0C1958.4,1896.1 1959.8,1899.0 1961.5,1902.6C1963.2,1906.2 1965.1,1914.0 1966.9,1920.7C1968.7,1927.4 1970.9,1934.6 1972.4,1942.5C1973.9,1950.4 1975.0,1958.6 1976.0,1968.0C1977.0,1977.4 1977.7,1990.6 1978.7,1998.8C1979.7,2007.0 1981.2,2013.5 1981.8,2017.0C1982.4,2020.5 1981.4,2013.9 1982.3,2020.0C1983.2,2026.1 1985.4,2043.7 1987.0,2053.8C1988.6,2064.0 1990.2,2073.0 1991.8,2080.9C1993.4,2088.8 1994.8,2095.6 1996.5,2101.1C1998.2,2106.6 2000.3,2113.4 2001.9,2114.0C2003.5,2114.6 2004.7,2107.2 2006.0,2104.5C2007.3,2101.8 2008.7,2099.0 2010.0,2097.8C2011.3,2096.6 2012.8,2096.3 2014.1,2097.1C2015.4,2097.9 2016.5,2100.0 2018.1,2102.5C2019.7,2105.0 2022.0,2111.1 2023.6,2112.0C2025.2,2112.9 2026.2,2111.4 2027.6,2107.9C2028.9,2104.4 2030.2,2097.8 2031.7,2091.0C2033.2,2084.2 2034.8,2074.1 2036.4,2067.3C2038.0,2060.5 2039.4,2058.3 2041.1,2050.4C2042.8,2042.5 2044.9,2031.6 2046.5,2020.0C2048.1,2008.4 2049.2,1991.8 2050.8,1980.7C2052.4,1969.6 2054.1,1961.6 2056.2,1953.4C2058.3,1945.2 2061.1,1936.4 2063.5,1931.6C2065.9,1926.8 2068.6,1928.3 2070.7,1924.4C2072.8,1920.5 2074.1,1912.8 2076.2,1908.0C2078.3,1903.2 2081.1,1900.6 2083.5,1895.3C2085.9,1890.0 2088.1,1877.8 2090.7,1876.3C2093.3,1874.8 2096.8,1885.8 2098.9,1886.2C2101.0,1886.7 2101.4,1885.3 2103.4,1879.0C2105.4,1872.7 2108.6,1855.2 2110.7,1848.1C2112.8,1841.0 2113.7,1838.9 2116.1,1836.3C2118.5,1833.7 2121.9,1832.5 2125.2,1832.7C2128.5,1832.9 2132.8,1835.9 2136.1,1837.2C2139.4,1838.5 2141.6,1838.1 2145.2,1840.8C2148.8,1843.5 2153.7,1849.3 2157.9,1853.6C2162.1,1857.8 2166.7,1863.3 2170.6,1866.3C2174.5,1869.3 2178.5,1869.6 2181.5,1871.7C2184.5,1873.8 2186.1,1876.6 2188.8,1879.0C2191.5,1881.4 2195.2,1883.5 2197.9,1886.2C2200.6,1888.9 2203.0,1892.6 2205.1,1895.3C2207.2,1898.0 2209.7,1901.4 2210.6,1902.6" fill="none" stroke="#4c4c4c" stroke-width="2" stroke-linejoin="round" stroke-linecap="round"/>
<path d="M272.1,2231.8C275.1,2232.0 282.2,2232.8 290.3,2232.7C298.4,2232.6 309.4,2231.6 320.5,2231.2C331.6,2230.8 345.3,2230.6 356.9,2230.3C368.5,2230.0 380.0,2229.5 390.1,2229.4C400.2,2229.3 408.8,2229.3 417.4,2229.7C426.0,2230.1 434.5,2230.8 441.6,2231.8C448.7,2232.8 454.8,2234.2 459.8,2235.7C464.9,2237.2 466.9,2237.8 471.9,2240.9C476.9,2244.0 485.0,2250.7 490.0,2254.5C495.0,2258.3 497.1,2259.8 502.1,2263.6C507.2,2267.4 514.2,2271.6 520.3,2277.2C526.4,2282.8 532.5,2291.9 538.5,2296.9C544.5,2301.9 550.1,2302.9 556.6,2307.4C563.1,2311.9 570.7,2318.3 577.8,2324.1C584.9,2329.9 591.4,2336.8 599.0,2342.3C606.6,2347.9 615.1,2353.5 623.2,2357.4C631.3,2361.3 639.3,2364.4 647.4,2365.9C655.5,2367.4 663.0,2365.8 671.6,2366.5C680.2,2367.2 689.3,2370.3 698.9,2370.1C708.5,2369.8 720.5,2366.6 729.1,2365.0C737.7,2363.4 741.7,2363.2 750.3,2360.4C758.9,2357.6 770.4,2351.8 780.5,2348.3C790.6,2344.8 800.7,2342.2 810.8,2339.2C820.9,2336.2 833.0,2332.0 841.1,2330.1C849.2,2328.2 854.2,2327.6 859.2,2327.7C864.2,2327.8 867.3,2330.5 871.3,2330.8C875.3,2331.1 878.3,2328.6 883.4,2329.5C888.5,2330.4 896.5,2336.5 901.6,2336.2C906.7,2335.9 909.7,2328.8 913.7,2327.7C917.7,2326.6 920.8,2330.0 925.8,2329.5C930.8,2329.0 939.0,2327.4 944.0,2324.7C949.0,2322.0 950.6,2316.9 956.1,2313.5C961.6,2310.1 968.7,2307.4 977.3,2304.4C985.9,2301.4 995.9,2298.3 1007.5,2295.3C1019.1,2292.3 1034.3,2289.6 1046.9,2286.3C1059.5,2283.0 1072.1,2278.1 1083.2,2275.7C1094.3,2273.3 1102.4,2272.8 1113.5,2271.7C1124.6,2270.6 1138.7,2270.6 1149.8,2269.0C1160.9,2267.4 1171.6,2263.4 1180.0,2262.0C1188.4,2260.6 1191.6,2261.3 1200.0,2260.5C1208.4,2259.7 1222.7,2257.9 1230.3,2256.9C1237.9,2255.9 1239.4,2255.0 1245.4,2254.5C1251.5,2254.0 1260.5,2254.8 1266.6,2253.9C1272.6,2253.0 1273.6,2250.2 1281.7,2249.0C1289.8,2247.8 1303.4,2247.0 1315.0,2246.9C1326.6,2246.8 1340.2,2248.2 1351.3,2248.4C1362.4,2248.6 1371.5,2248.7 1381.6,2247.8C1391.7,2247.0 1400.8,2245.0 1411.9,2243.3C1423.0,2241.6 1435.6,2239.2 1448.2,2237.8C1460.8,2236.4 1476.9,2235.8 1487.5,2234.8C1498.1,2233.8 1502.6,2232.3 1511.7,2231.8C1520.8,2231.3 1530.9,2231.6 1542.0,2231.8C1553.1,2232.1 1569.7,2232.3 1578.3,2233.3C1586.9,2234.3 1588.5,2236.0 1593.5,2237.8C1598.5,2239.6 1604.6,2241.1 1608.6,2243.9C1612.6,2246.7 1614.2,2251.0 1617.7,2254.5C1621.2,2258.0 1626.3,2260.6 1629.8,2265.1C1633.3,2269.6 1635.9,2275.4 1638.9,2281.7C1641.9,2288.0 1645.4,2297.6 1647.9,2302.9C1650.4,2308.2 1652.0,2310.9 1654.0,2313.5C1656.0,2316.1 1657.2,2317.1 1660.0,2318.6C1662.8,2320.1 1667.8,2319.2 1670.6,2322.6C1673.4,2326.0 1674.2,2335.7 1676.7,2339.2C1679.2,2342.7 1683.3,2340.8 1685.8,2343.8C1688.3,2346.8 1690.0,2352.1 1691.8,2357.4C1693.6,2362.7 1695.3,2371.5 1696.4,2375.5C1697.5,2379.5 1697.3,2376.9 1698.2,2381.6C1699.1,2386.2 1700.6,2396.1 1701.8,2403.4C1703.0,2410.7 1704.4,2421.3 1705.4,2425.2C1706.5,2429.1 1707.3,2423.7 1708.1,2427.0C1708.9,2430.3 1708.6,2441.9 1710.0,2445.1C1711.4,2448.3 1714.2,2446.8 1716.3,2446.1C1718.4,2445.3 1720.6,2445.3 1722.7,2440.6C1724.8,2435.9 1727.0,2425.3 1729.0,2417.9C1731.0,2410.5 1732.7,2404.6 1734.5,2396.1C1736.3,2387.6 1737.8,2376.8 1739.9,2367.1C1742.0,2357.4 1744.9,2346.0 1747.2,2338.0C1749.5,2330.0 1751.7,2321.0 1753.5,2318.9C1755.3,2316.8 1756.7,2322.7 1758.1,2325.3C1759.5,2327.9 1759.9,2331.4 1761.7,2334.4C1763.5,2337.4 1767.5,2340.5 1769.0,2343.5C1770.5,2346.5 1769.0,2348.6 1770.8,2352.5C1772.6,2356.4 1777.5,2360.7 1779.9,2367.1C1782.3,2373.5 1783.5,2382.8 1785.3,2390.7C1787.1,2398.6 1789.0,2408.0 1790.8,2414.3C1792.6,2420.7 1794.5,2427.3 1796.2,2428.8C1797.9,2430.3 1799.3,2428.2 1800.8,2423.4C1802.3,2418.6 1803.9,2406.7 1805.3,2399.7C1806.7,2392.7 1807.1,2388.2 1808.9,2381.6C1810.7,2374.9 1814.4,2365.2 1816.2,2359.8C1818.0,2354.4 1818.0,2356.3 1819.8,2348.9C1821.6,2341.5 1824.1,2322.6 1827.1,2315.3C1830.1,2308.0 1834.4,2309.1 1838.0,2305.3C1841.6,2301.5 1845.3,2296.8 1848.9,2292.6C1852.5,2288.4 1857.4,2283.5 1859.8,2279.9C1862.2,2276.3 1861.6,2275.3 1863.4,2270.8C1865.2,2266.3 1868.6,2256.5 1870.7,2252.7C1872.8,2248.9 1873.4,2248.2 1876.1,2248.1C1878.8,2247.9 1884.0,2251.8 1887.0,2251.8C1890.0,2251.8 1891.9,2249.8 1894.3,2248.1C1896.7,2246.4 1898.2,2243.6 1901.5,2241.8C1904.8,2240.0 1910.9,2236.6 1914.2,2237.2C1917.5,2237.8 1918.8,2243.7 1921.5,2245.4C1924.2,2247.1 1928.2,2246.1 1930.6,2247.2C1933.0,2248.3 1934.2,2248.2 1936.0,2251.8C1937.8,2255.4 1940.0,2263.4 1941.5,2269.0C1943.0,2274.6 1943.9,2280.0 1945.1,2285.3C1946.3,2290.6 1947.5,2298.7 1948.7,2300.8C1949.9,2302.9 1951.2,2300.5 1952.4,2298.1C1953.6,2295.7 1954.6,2287.2 1956.0,2286.3C1957.4,2285.4 1958.8,2287.6 1960.6,2292.6C1962.4,2297.6 1964.9,2309.8 1966.9,2316.2C1968.9,2322.5 1970.9,2325.2 1972.4,2330.7C1973.9,2336.1 1975.0,2341.9 1976.0,2348.9C1977.0,2355.9 1978.0,2365.5 1978.7,2372.5C1979.4,2379.5 1979.1,2383.7 1979.9,2390.7C1980.7,2397.7 1981.5,2405.5 1983.6,2414.3C1985.7,2423.1 1990.0,2436.0 1992.7,2443.3C1995.4,2450.6 1997.2,2453.4 1999.9,2457.9C2002.6,2462.4 2006.2,2464.6 2009.0,2470.6C2011.8,2476.6 2014.5,2487.0 2016.6,2494.2C2018.7,2501.4 2020.0,2508.3 2021.5,2513.6C2023.0,2518.8 2024.4,2524.9 2025.8,2525.7C2027.2,2526.5 2028.6,2522.8 2029.7,2518.4C2030.8,2514.0 2031.5,2505.2 2032.6,2499.1C2033.6,2493.0 2034.8,2486.0 2036.0,2482.1C2037.2,2478.2 2038.7,2475.8 2039.9,2475.8C2041.1,2475.8 2042.3,2479.4 2043.3,2482.1C2044.3,2484.8 2044.9,2489.4 2045.7,2491.8C2046.5,2494.2 2047.2,2497.4 2048.1,2496.6C2049.0,2495.8 2050.2,2490.5 2051.0,2486.9C2051.8,2483.3 2052.1,2482.4 2053.0,2474.8C2053.9,2467.2 2055.1,2454.0 2056.2,2441.5C2057.3,2429.0 2058.6,2412.7 2059.8,2399.7C2061.0,2386.7 2062.3,2372.5 2063.5,2363.4C2064.7,2354.3 2065.6,2350.8 2067.1,2345.3C2068.6,2339.9 2070.8,2336.8 2072.6,2330.7C2074.4,2324.6 2075.9,2315.7 2078.0,2309.0C2080.1,2302.3 2082.6,2294.1 2085.3,2290.8C2088.0,2287.5 2091.9,2289.9 2094.3,2289.0C2096.7,2288.1 2097.7,2288.9 2099.8,2285.3C2101.9,2281.7 2104.8,2271.9 2107.1,2267.2C2109.4,2262.5 2110.4,2259.6 2113.4,2257.2C2116.4,2254.8 2122.0,2252.8 2125.2,2253.0C2128.4,2253.2 2128.6,2254.8 2132.5,2258.1C2136.4,2261.4 2144.6,2268.1 2148.8,2272.6C2153.0,2277.1 2154.3,2280.8 2157.9,2285.3C2161.5,2289.9 2167.0,2296.3 2170.6,2299.9C2174.2,2303.5 2176.4,2304.4 2179.7,2307.1C2183.0,2309.8 2187.3,2313.6 2190.6,2316.2C2193.9,2318.8 2196.4,2320.0 2199.7,2322.6C2203.0,2325.2 2208.8,2330.2 2210.6,2331.7" fill="none" stroke="#000" stroke-opacity="0.27" stroke-width="4" stroke-linejoin="round" stroke-linecap="round"/>
<path d="M272.1,2231.8C275.1,2232.0 282.2,2232.8 290.3,2232.7C298.4,2232.6 309.4,2231.6 320.5,2231.2C331.6,2230.8 345.3,2230.6 356.9,2230.3C368.5,2230.0 380.0,2229.5 390.1,2229.4C400.2,2229.3 408.8,2229.3 417.4,2229.7C426.0,2230.1 434.5,2230.8 441.6,2231.8C448.7,2232.8 454.8,2234.2 459.8,2235.7C464.9,2237.2 466.9,2237.8 471.9,2240.9C476.9,2244.0 485.0,2250.7 490.0,2254.5C495.0,2258.3 497.1,2259.8 502.1,2263.6C507.2,2267.4 514.2,2271.6 520.3,2277.2C526.4,2282.8 532.5,2291.9 538.5,2296.9C544.5,2301.9 550.1,2302.9 556.6,2307.4C563.1,2311.9 570.7,2318.3 577.8,2324.1C584.9,2329.9 591.4,2336.8 599.0,2342.3C606.6,2347.9 615.1,2353.5 623.2,2357.4C631.3,2361.3 639.3,2364.4 647.4,2365.9C655.5,2367.4 663.0,2365.8 671.6,2366.5C680.2,2367.2 689.3,2370.3 698.9,2370.1C708.5,2369.8 720.5,2366.6 729.1,2365.0C737.7,2363.4 741.7,2363.2 750.3,2360.4C758.9,2357.6 770.4,2351.8 780.5,2348.3C790.6,2344.8 800.7,2342.2 810.8,2339.2C820.9,2336.2 833.0,2332.0 841.1,2330.1C849.2,2328.2 854.2,2327.6 859.2,2327.7C864.2,2327.8 867.3,2330.5 871.3,2330.8C875.3,2331.1 878.3,2328.6 883.4,2329.5C888.5,2330.4 896.5,2336.5 901.6,2336.2C906.7,2335.9 909.7,2328.8 913.7,2327.7C917.7,2326.6 920.8,2330.0 925.8,2329.5C930.8,2329.0 939.0,2327.4 944.0,2324.7C949.0,2322.0 950.6,2316.9 956.1,2313.5C961.6,2310.1 968.7,2307.4 977.3,2304.4C985.9,2301.4 995.9,2298.3 1007.5,2295.3C1019.1,2292.3 1034.3,2289.6 1046.9,2286.3C1059.5,2283.0 1072.1,2278.1 1083.2,2275.7C1094.3,2273.3 1102.4,2272.8 1113.5,2271.7C1124.6,2270.6 1138.7,2270.6 1149.8,2269.0C1160.9,2267.4 1171.6,2263.4 1180.0,2262.0C1188.4,2260.6 1191.6,2261.3 1200.0,2260.5C1208.4,2259.7 1222.7,2257.9 1230.3,2256.9C1237.9,2255.9 1239.4,2255.0 1245.4,2254.5C1251.5,2254.0 1260.5,2254.8 1266.6,2253.9C1272.6,2253.0 1273.6,2250.2 1281.7,2249.0C1289.8,2247.8 1303.4,2247.0 1315.0,2246.9C1326.6,2246.8 1340.2,2248.2 1351.3,2248.4C1362.4,2248.6 1371.5,2248.7 1381.6,2247.8C1391.7,2247.0 1400.8,2245.0 1411.9,2243.3C1423.0,2241.6 1435.6,2239.2 1448.2,2237.8C1460.8,2236.4 1476.9,2235.8 1487.5,2234.8C1498.1,2233.8 1502.6,2232.3 1511.7,2231.8C1520.8,2231.3 1530.9,2231.6 1542.0,2231.8C1553.1,2232.1 1569.7,2232.3 1578.3,2233.3C1586.9,2234.3 1588.5,2236.0 1593.5,2237.8C1598.5,2239.6 1604.6,2241.1 1608.6,2243.9C1612.6,2246.7 1614.2,2251.0 1617.7,2254.5C1621.2,2258.0 1626.3,2260.6 1629.8,2265.1C1633.3,2269.6 1635.9,2275.4 1638.9,2281.7C1641.9,2288.0 1645.4,2297.6 1647.9,2302.9C1650.4,2308.2 1652.0,2310.9 1654.0,2313.5C1656.0,2316.1 1657.2,2317.1 1660.0,2318.6C1662.8,2320.1 1667.8,2319.2 1670.6,2322.6C1673.4,2326.0 1674.2,2335.7 1676.7,2339.2C1679.2,2342.7 1683.3,2340.8 1685.8,2343.8C1688.3,2346.8 1690.0,2352.1 1691.8,2357.4C1693.6,2362.7 1695.3,2371.5 1696.4,2375.5C1697.5,2379.5 1697.3,2376.9 1698.2,2381.6C1699.1,2386.2 1700.6,2396.1 1701.8,2403.4C1703.0,2410.7 1704.4,2421.3 1705.4,2425.2C1706.5,2429.1 1707.3,2423.7 1708.1,2427.0C1708.9,2430.3 1708.6,2441.9 1710.0,2445.1C1711.4,2448.3 1714.2,2446.8 1716.3,2446.1C1718.4,2445.3 1720.6,2445.3 1722.7,2440.6C1724.8,2435.9 1727.0,2425.3 1729.0,2417.9C1731.0,2410.5 1732.7,2404.6 1734.5,2396.1C1736.3,2387.6 1737.8,2376.8 1739.9,2367.1C1742.0,2357.4 1744.9,2346.0 1747.2,2338.0C1749.5,2330.0 1751.7,2321.0 1753.5,2318.9C1755.3,2316.8 1756.7,2322.7 1758.1,2325.3C1759.5,2327.9 1759.9,2331.4 1761.7,2334.4C1763.5,2337.4 1767.5,2340.5 1769.0,2343.5C1770.5,2346.5 1769.0,2348.6 1770.8,2352.5C1772.6,2356.4 1777.5,2360.7 1779.9,2367.1C1782.3,2373.5 1783.5,2382.8 1785.3,2390.7C1787.1,2398.6 1789.0,2408.0 1790.8,2414.3C1792.6,2420.7 1794.5,2427.3 1796.2,2428.8C1797.9,2430.3 1799.3,2428.2 1800.8,2423.4C1802.3,2418.6 1803.9,2406.7 1805.3,2399.7C1806.7,2392.7 1807.1,2388.2 1808.9,2381.6C1810.7,2374.9 1814.4,2365.2 1816.2,2359.8C1818.0,2354.4 1818.0,2356.3 1819.8,2348.9C1821.6,2341.5 1824.1,2322.6 1827.1,2315.3C1830.1,2308.0 1834.4,2309.1 1838.0,2305.3C1841.6,2301.5 1845.3,2296.8 1848.9,2292.6C1852.5,2288.4 1857.4,2283.5 1859.8,2279.9C1862.2,2276.3 1861.6,2275.3 1863.4,2270.8C1865.2,2266.3 1868.6,2256.5 1870.7,2252.7C1872.8,2248.9 1873.4,2248.2 1876.1,2248.1C1878.8,2247.9 1884.0,2251.8 1887.0,2251.8C1890.0,2251.8 1891.9,2249.8 1894.3,2248.1C1896.7,2246.4 1898.2,2243.6 1901.5,2241.8C1904.8,2240.0 1910.9,2236.6 1914.2,2237.2C1917.5,2237.8 1918.8,2243.7 1921.5,2245.4C1924.2,2247.1 1928.2,2246.1 1930.6,2247.2C1933.0,2248.3 1934.2,2248.2 1936.0,2251.8C1937.8,2255.4 1940.0,2263.4 1941.5,2269.0C1943.0,2274.6 1943.9,2280.0 1945.1,2285.3C1946.3,2290.6 1947.5,2298.7 1948.7,2300.8C1949.9,2302.9 1951.2,2300.5 1952.4,2298.1C1953.6,2295.7 1954.6,2287.2 1956.0,2286.3C1957.4,2285.4 1958.8,2287.6 1960.6,2292.6C1962.4,2297.6 1964.9,2309.8 1966.9,2316.2C1968.9,2322.5 1970.9,2325.2 1972.4,2330.7C1973.9,2336.1 1975.0,2341.9 1976.0,2348.9C1977.0,2355.9 1978.0,2365.5 1978.7,2372.5C1979.4,2379.5 1979.1,2383.7 1979.9,2390.7C1980.7,2397.7 1981.5,2405.5 1983.6,2414.3C1985.7,2423.1 1990.0,2436.0 1992.7,2443.3C1995.4,2450.6 1997.2,2453.4 1999.9,2457.9C2002.6,2462.4 2006.2,2464.6 2009.0,2470.6C2011.8,2476.6 2014.5,2487.0 2016.6,2494.2C2018.7,2501.4 2020.0,2508.3 2021.5,2513.6C2023.0,2518.8 2024.4,2524.9 2025.8,2525.7C2027.2,2526.5 2028.6,2522.8 2029.7,2518.4C2030.8,2514.0 2031.5,2505.2 2032.6,2499.1C2033.6,2493.0 2034.8,2486.0 2036.0,2482.1C2037.2,2478.2 2038.7,2475.8 2039.9,2475.8C2041.1,2475.8 2042.3,2479.4 2043.3,2482.1C2044.3,2484.8 2044.9,2489.4 2045.7,2491.8C2046.5,2494.2 2047.2,2497.4 2048.1,2496.6C2049.0,2495.8 2050.2,2490.5 2051.0,2486.9C2051.8,2483.3 2052.1,2482.4 2053.0,2474.8C2053.9,2467.2 2055.1,2454.0 2056.2,2441.5C2057.3,2429.0 2058.6,2412.7 2059.8,2399.7C2061.0,2386.7 2062.3,2372.5 2063.5,2363.4C2064.7,2354.3 2065.6,2350.8 2067.1,2345.3C2068.6,2339.9 2070.8,2336.8 2072.6,2330.7C2074.4,2324.6 2075.9,2315.7 2078.0,2309.0C2080.1,2302.3 2082.6,2294.1 2085.3,2290.8C2088.0,2287.5 2091.9,2289.9 2094.3,2289.0C2096.7,2288.1 2097.7,2288.9 2099.8,2285.3C2101.9,2281.7 2104.8,2271.9 2107.1,2267.2C2109.4,2262.5 2110.4,2259.6 2113.4,2257.2C2116.4,2254.8 2122.0,2252.8 2125.2,2253.0C2128.4,2253.2 2128.6,2254.8 2132.5,2258.1C2136.4,2261.4 2144.6,2268.1 2148.8,2272.6C2153.0,2277.1 2154.3,2280.8 2157.9,2285.3C2161.5,2289.9 2167.0,2296.3 2170.6,2299.9C2174.2,2303.5 2176.4,2304.4 2179.7,2307.1C2183.0,2309.8 2187.3,2313.6 2190.6,2316.2C2193.9,2318.8 2196.4,2320.0 2199.7,2322.6C2203.0,2325.2 2208.8,2330.2 2210.6,2331.7" fill="none" stroke="#4c4c4c" stroke-width="2" stroke-linejoin="round" stroke-linecap="round"/>
<path d="M272.1,2640.3C277.7,2640.5 294.8,2641.6 305.4,2641.5C316.0,2641.4 325.6,2640.5 335.7,2640.0C345.8,2639.5 355.8,2639.0 365.9,2638.7C376.0,2638.4 385.1,2638.3 396.2,2638.4C407.3,2638.5 424.9,2638.6 432.5,2639.3C440.1,2640.0 437.6,2641.8 441.6,2642.4C445.6,2643.0 451.6,2642.1 456.7,2643.0C461.8,2643.9 467.3,2645.9 471.9,2647.8C476.4,2649.7 480.2,2651.4 484.0,2654.5C487.8,2657.6 491.6,2665.0 494.6,2666.6C497.6,2668.2 499.3,2663.7 502.1,2664.2C504.9,2664.7 508.2,2668.2 511.2,2669.6C514.2,2671.0 515.8,2669.6 520.3,2672.6C524.8,2675.6 533.5,2685.4 538.5,2687.8C543.5,2690.2 546.6,2686.9 550.6,2686.9C554.6,2686.9 557.7,2686.4 562.7,2687.8C567.7,2689.2 574.8,2692.6 580.8,2695.3C586.8,2698.0 591.9,2700.9 599.0,2703.8C606.1,2706.7 615.1,2710.1 623.2,2712.6C631.3,2715.1 639.3,2717.6 647.4,2718.9C655.5,2720.2 663.5,2719.3 671.6,2720.2C679.7,2721.1 687.7,2723.5 695.8,2724.1C703.9,2724.7 711.9,2723.9 720.0,2723.5C728.1,2723.1 736.2,2722.6 744.3,2721.7C752.4,2720.8 759.8,2719.4 768.4,2718.0C777.0,2716.6 786.1,2715.1 795.7,2713.5C805.3,2711.9 817.3,2709.6 825.9,2708.4C834.5,2707.2 840.5,2707.1 847.1,2706.5C853.7,2705.9 859.8,2705.1 865.3,2705.0C870.8,2704.9 875.9,2705.2 880.4,2705.9C884.9,2706.6 889.0,2708.0 892.5,2709.0C896.0,2710.0 898.6,2712.3 901.6,2712.0C904.6,2711.7 906.7,2708.4 910.7,2707.4C914.7,2706.4 920.2,2706.4 925.8,2705.9C931.3,2705.4 939.0,2706.0 944.0,2704.4C949.0,2702.8 950.6,2698.7 956.1,2696.2C961.6,2693.7 968.7,2691.5 977.3,2689.3C985.9,2687.1 997.4,2685.0 1007.5,2683.2C1017.6,2681.4 1027.7,2680.2 1037.8,2678.7C1047.9,2677.2 1058.0,2675.4 1068.1,2674.2C1078.2,2673.0 1088.2,2672.4 1098.3,2671.7C1108.4,2671.0 1118.5,2671.0 1128.6,2670.2C1138.7,2669.3 1148.8,2667.8 1158.9,2666.6C1169.0,2665.3 1182.2,2663.3 1189.1,2662.7C1195.9,2662.1 1193.1,2663.5 1200.0,2663.0C1206.9,2662.5 1220.2,2660.7 1230.3,2659.9C1240.4,2659.1 1251.4,2659.0 1260.5,2658.1C1269.6,2657.2 1274.6,2655.2 1284.7,2654.5C1294.8,2653.8 1309.0,2653.8 1321.1,2653.9C1333.2,2654.0 1344.8,2655.2 1357.4,2655.1C1370.0,2654.9 1382.6,2654.0 1396.7,2653.0C1410.8,2652.0 1429.5,2650.0 1442.1,2649.3C1454.7,2648.6 1462.3,2649.6 1472.4,2649.0C1482.5,2648.4 1492.6,2646.8 1502.7,2646.0C1512.8,2645.2 1522.8,2644.2 1532.9,2643.9C1543.0,2643.6 1554.1,2644.2 1563.2,2643.9C1572.3,2643.7 1579.8,2641.7 1587.4,2642.4C1595.0,2643.2 1601.5,2645.1 1608.6,2648.4C1615.7,2651.7 1624.2,2656.7 1629.8,2662.0C1635.3,2667.3 1637.9,2674.1 1641.9,2680.2C1645.9,2686.3 1650.5,2694.6 1654.0,2698.4C1657.5,2702.2 1660.1,2699.9 1663.1,2702.9C1666.1,2705.9 1668.7,2709.4 1672.2,2716.5C1675.7,2723.6 1680.8,2736.5 1684.3,2745.3C1687.8,2754.1 1691.0,2761.9 1693.3,2769.5C1695.6,2777.1 1696.5,2784.1 1697.9,2790.7C1699.3,2797.2 1700.5,2803.4 1701.8,2808.8C1703.0,2814.2 1704.4,2821.0 1705.4,2823.4C1706.5,2825.8 1707.3,2821.0 1708.1,2823.4C1708.9,2825.8 1708.8,2835.9 1710.0,2837.9C1711.2,2839.9 1713.4,2837.6 1715.4,2835.2C1717.4,2832.8 1719.8,2828.7 1721.8,2823.4C1723.8,2818.1 1725.1,2811.6 1727.2,2803.4C1729.3,2795.2 1732.1,2783.7 1734.5,2774.3C1736.9,2764.9 1739.6,2755.0 1741.7,2747.1C1743.8,2739.2 1745.2,2733.4 1747.2,2727.1C1749.2,2720.8 1751.7,2711.4 1753.5,2709.0C1755.3,2706.6 1756.9,2710.8 1758.1,2712.6C1759.3,2714.4 1759.6,2717.4 1760.8,2719.8C1762.0,2722.2 1763.9,2724.1 1765.3,2727.1C1766.7,2730.1 1768.1,2734.7 1769.0,2738.0C1769.9,2741.3 1769.0,2742.2 1770.8,2747.1C1772.6,2751.9 1777.5,2759.8 1779.9,2767.1C1782.3,2774.4 1783.5,2782.8 1785.3,2790.7C1787.1,2798.6 1788.7,2808.6 1790.8,2814.3C1792.9,2820.1 1796.2,2824.6 1798.0,2825.2C1799.8,2825.8 1800.2,2823.7 1801.7,2817.9C1803.2,2812.2 1805.3,2799.8 1807.1,2790.7C1808.9,2781.6 1811.1,2769.5 1812.6,2763.4C1814.1,2757.3 1815.0,2758.5 1816.2,2754.3C1817.4,2750.1 1818.0,2745.2 1819.8,2738.0C1821.6,2730.8 1824.7,2715.5 1827.1,2710.8C1829.5,2706.1 1832.5,2710.5 1834.3,2709.9C1836.1,2709.3 1835.9,2710.3 1838.0,2707.1C1840.1,2703.9 1843.5,2695.6 1847.1,2690.8C1850.7,2686.0 1857.1,2681.3 1859.8,2678.1C1862.5,2674.9 1861.3,2674.9 1863.4,2671.7C1865.5,2668.5 1869.8,2661.3 1872.5,2659.0C1875.2,2656.7 1877.0,2657.8 1879.7,2657.7C1882.4,2657.6 1886.4,2658.9 1888.8,2658.5C1891.2,2658.1 1892.5,2656.5 1894.3,2655.4C1896.1,2654.3 1897.6,2652.6 1899.7,2651.8C1901.8,2651.0 1904.6,2650.4 1907.0,2650.8C1909.4,2651.2 1911.8,2651.6 1914.2,2654.5C1916.6,2657.4 1919.4,2665.7 1921.5,2668.1C1923.6,2670.5 1925.2,2669.3 1927.0,2669.0C1928.8,2668.7 1930.6,2666.2 1932.4,2666.3C1934.2,2666.5 1936.4,2667.9 1937.9,2669.9C1939.4,2671.9 1940.0,2673.7 1941.5,2678.1C1943.0,2682.5 1945.1,2693.3 1946.9,2696.2C1948.7,2699.1 1950.7,2695.3 1952.4,2695.3C1954.1,2695.3 1955.4,2693.9 1956.9,2696.2C1958.4,2698.5 1959.8,2702.6 1961.5,2709.0C1963.2,2715.4 1965.1,2727.8 1966.9,2734.4C1968.7,2741.1 1970.6,2742.9 1972.4,2748.9C1974.2,2754.9 1976.8,2766.5 1977.8,2770.7C1978.8,2774.9 1977.1,2768.2 1978.1,2774.3C1979.1,2780.4 1981.8,2799.1 1983.6,2807.0C1985.4,2814.9 1986.6,2817.6 1989.0,2821.5C1991.4,2825.4 1995.7,2826.7 1998.1,2830.6C2000.5,2834.5 2001.8,2838.8 2003.6,2845.1C2005.4,2851.4 2007.5,2862.9 2009.0,2868.7C2010.5,2874.5 2011.0,2874.7 2012.3,2880.0C2013.6,2885.3 2015.5,2893.5 2017.0,2900.3C2018.5,2907.1 2019.7,2915.1 2021.1,2920.6C2022.5,2926.1 2024.2,2930.9 2025.2,2933.4C2026.2,2935.9 2026.4,2936.0 2027.2,2935.4C2028.0,2934.8 2028.9,2933.2 2029.9,2930.0C2030.9,2926.8 2032.1,2920.1 2033.3,2916.5C2034.5,2912.9 2036.1,2909.3 2037.3,2908.4C2038.5,2907.5 2039.7,2908.5 2040.7,2911.1C2041.7,2913.7 2042.4,2918.4 2043.4,2923.9C2044.4,2929.4 2045.7,2938.3 2046.8,2944.2C2047.9,2950.1 2048.8,2958.0 2049.8,2959.1C2050.8,2960.2 2051.9,2956.3 2052.9,2951.0C2053.9,2945.7 2054.7,2935.8 2055.6,2927.3C2056.5,2918.9 2057.5,2908.2 2058.3,2900.3C2059.2,2892.4 2060.1,2889.2 2060.7,2880.0C2061.3,2870.8 2060.9,2856.0 2061.7,2845.1C2062.5,2834.2 2064.1,2822.8 2065.3,2814.3C2066.5,2805.8 2067.4,2801.3 2068.9,2794.3C2070.4,2787.3 2072.6,2779.8 2074.4,2772.5C2076.2,2765.2 2078.0,2757.8 2079.8,2750.7C2081.6,2743.6 2083.5,2732.5 2085.3,2729.8C2087.1,2727.1 2088.9,2734.9 2090.7,2734.4C2092.5,2733.9 2094.1,2731.7 2096.2,2727.1C2098.3,2722.5 2101.0,2713.4 2103.4,2707.1C2105.8,2700.8 2108.3,2693.5 2110.7,2689.0C2113.1,2684.5 2115.0,2683.4 2118.0,2679.9C2121.0,2676.4 2125.3,2669.5 2128.9,2668.1C2132.5,2666.7 2136.4,2670.3 2139.7,2671.7C2143.0,2673.1 2145.5,2673.9 2148.8,2676.3C2152.1,2678.7 2155.5,2683.6 2159.7,2686.3C2163.9,2689.0 2168.8,2689.6 2174.2,2692.6C2179.6,2695.6 2187.6,2702.1 2192.4,2704.4C2197.2,2706.7 2200.3,2705.0 2203.3,2706.2C2206.3,2707.4 2209.4,2710.8 2210.6,2711.7" fill="none" stroke="#000" stroke-opacity="0.27" stroke-width="4" stroke-linejoin="round" stroke-linecap="round"/>
<path d="M272.1,2640.3C277.7,2640.5 294.8,2641.6 305.4,2641.5C316.0,2641.4 325.6,2640.5 335.7,2640.0C345.8,2639.5 355.8,2639.0 365.9,2638.7C376.0,2638.4 385.1,2638.3 396.2,2638.4C407.3,2638.5 424.9,2638.6 432.5,2639.3C440.1,2640.0 437.6,2641.8 441.6,2642.4C445.6,2643.0 451.6,2642.1 456.7,2643.0C461.8,2643.9 467.3,2645.9 471.9,2647.8C476.4,2649.7 480.2,2651.4 484.0,2654.5C487.8,2657.6 491.6,2665.0 494.6,2666.6C497.6,2668.2 499.3,2663.7 502.1,2664.2C504.9,2664.7 508.2,2668.2 511.2,2669.6C514.2,2671.0 515.8,2669.6 520.3,2672.6C524.8,2675.6 533.5,2685.4 538.5,2687.8C543.5,2690.2 546.6,2686.9 550.6,2686.9C554.6,2686.9 557.7,2686.4 562.7,2687.8C567.7,2689.2 574.8,2692.6 580.8,2695.3C586.8,2698.0 591.9,2700.9 599.0,2703.8C606.1,2706.7 615.1,2710.1 623.2,2712.6C631.3,2715.1 639.3,2717.6 647.4,2718.9C655.5,2720.2 663.5,2719.3 671.6,2720.2C679.7,2721.1 687.7,2723.5 695.8,2724.1C703.9,2724.7 711.9,2723.9 720.0,2723.5C728.1,2723.1 736.2,2722.6 744.3,2721.7C752.4,2720.8 759.8,2719.4 768.4,2718.0C777.0,2716.6 786.1,2715.1 795.7,2713.5C805.3,2711.9 817.3,2709.6 825.9,2708.4C834.5,2707.2 840.5,2707.1 847.1,2706.5C853.7,2705.9 859.8,2705.1 865.3,2705.0C870.8,2704.9 875.9,2705.2 880.4,2705.9C884.9,2706.6 889.0,2708.0 892.5,2709.0C896.0,2710.0 898.6,2712.3 901.6,2712.0C904.6,2711.7 906.7,2708.4 910.7,2707.4C914.7,2706.4 920.2,2706.4 925.8,2705.9C931.3,2705.4 939.0,2706.0 944.0,2704.4C949.0,2702.8 950.6,2698.7 956.1,2696.2C961.6,2693.7 968.7,2691.5 977.3,2689.3C985.9,2687.1 997.4,2685.0 1007.5,2683.2C1017.6,2681.4 1027.7,2680.2 1037.8,2678.7C1047.9,2677.2 1058.0,2675.4 1068.1,2674.2C1078.2,2673.0 1088.2,2672.4 1098.3,2671.7C1108.4,2671.0 1118.5,2671.0 1128.6,2670.2C1138.7,2669.3 1148.8,2667.8 1158.9,2666.6C1169.0,2665.3 1182.2,2663.3 1189.1,2662.7C1195.9,2662.1 1193.1,2663.5 1200.0,2663.0C1206.9,2662.5 1220.2,2660.7 1230.3,2659.9C1240.4,2659.1 1251.4,2659.0 1260.5,2658.1C1269.6,2657.2 1274.6,2655.2 1284.7,2654.5C1294.8,2653.8 1309.0,2653.8 1321.1,2653.9C1333.2,2654.0 1344.8,2655.2 1357.4,2655.1C1370.0,2654.9 1382.6,2654.0 1396.7,2653.0C1410.8,2652.0 1429.5,2650.0 1442.1,2649.3C1454.7,2648.6 1462.3,2649.6 1472.4,2649.0C1482.5,2648.4 1492.6,2646.8 1502.7,2646.0C1512.8,2645.2 1522.8,2644.2 1532.9,2643.9C1543.0,2643.6 1554.1,2644.2 1563.2,2643.9C1572.3,2643.7 1579.8,2641.7 1587.4,2642.4C1595.0,2643.2 1601.5,2645.1 1608.6,2648.4C1615.7,2651.7 1624.2,2656.7 1629.8,2662.0C1635.3,2667.3 1637.9,2674.1 1641.9,2680.2C1645.9,2686.3 1650.5,2694.6 1654.0,2698.4C1657.5,2702.2 1660.1,2699.9 1663.1,2702.9C1666.1,2705.9 1668.7,2709.4 1672.2,2716.5C1675.7,2723.6 1680.8,2736.5 1684.3,2745.3C1687.8,2754.1 1691.0,2761.9 1693.3,2769.5C1695.6,2777.1 1696.5,2784.1 1697.9,2790.7C1699.3,2797.2 1700.5,2803.4 1701.8,2808.8C1703.0,2814.2 1704.4,2821.0 1705.4,2823.4C1706.5,2825.8 1707.3,2821.0 1708.1,2823.4C1708.9,2825.8 1708.8,2835.9 1710.0,2837.9C1711.2,2839.9 1713.4,2837.6 1715.4,2835.2C1717.4,2832.8 1719.8,2828.7 1721.8,2823.4C1723.8,2818.1 1725.1,2811.6 1727.2,2803.4C1729.3,2795.2 1732.1,2783.7 1734.5,2774.3C1736.9,2764.9 1739.6,2755.0 1741.7,2747.1C1743.8,2739.2 1745.2,2733.4 1747.2,2727.1C1749.2,2720.8 1751.7,2711.4 1753.5,2709.0C1755.3,2706.6 1756.9,2710.8 1758.1,2712.6C1759.3,2714.4 1759.6,2717.4 1760.8,2719.8C1762.0,2722.2 1763.9,2724.1 1765.3,2727.1C1766.7,2730.1 1768.1,2734.7 1769.0,2738.0C1769.9,2741.3 1769.0,2742.2 1770.8,2747.1C1772.6,2751.9 1777.5,2759.8 1779.9,2767.1C1782.3,2774.4 1783.5,2782.8 1785.3,2790.7C1787.1,2798.6 1788.7,2808.6 1790.8,2814.3C1792.9,2820.1 1796.2,2824.6 1798.0,2825.2C1799.8,2825.8 1800.2,2823.7 1801.7,2817.9C1803.2,2812.2 1805.3,2799.8 1807.1,2790.7C1808.9,2781.6 1811.1,2769.5 1812.6,2763.4C1814.1,2757.3 1815.0,2758.5 1816.2,2754.3C1817.4,2750.1 1818.0,2745.2 1819.8,2738.0C1821.6,2730.8 1824.7,2715.5 1827.1,2710.8C1829.5,2706.1 1832.5,2710.5 1834.3,2709.9C1836.1,2709.3 1835.9,2710.3 1838.0,2707.1C1840.1,2703.9 1843.5,2695.6 1847.1,2690.8C1850.7,2686.0 1857.1,2681.3 1859.8,2678.1C1862.5,2674.9 1861.3,2674.9 1863.4,2671.7C1865.5,2668.5 1869.8,2661.3 1872.5,2659.0C1875.2,2656.7 1877.0,2657.8 1879.7,2657.7C1882.4,2657.6 1886.4,2658.9 1888.8,2658.5C1891.2,2658.1 1892.5,2656.5 1894.3,2655.4C1896.1,2654.3 1897.6,2652.6 1899.7,2651.8C1901.8,2651.0 1904.6,2650.4 1907.0,2650.8C1909.4,2651.2 1911.8,2651.6 1914.2,2654.5C1916.6,2657.4 1919.4,2665.7 1921.5,2668.1C1923.6,2670.5 1925.2,2669.3 1927.0,2669.0C1928.8,2668.7 1930.6,2666.2 1932.4,2666.3C1934.2,2666.5 1936.4,2667.9 1937.9,2669.9C1939.4,2671.9 1940.0,2673.7 1941.5,2678.1C1943.0,2682.5 1945.1,2693.3 1946.9,2696.2C1948.7,2699.1 1950.7,2695.3 1952.4,2695.3C1954.1,2695.3 1955.4,2693.9 1956.9,2696.2C1958.4,2698.5 1959.8,2702.6 1961.5,2709.0C1963.2,2715.4 1965.1,2727.8 1966.9,2734.4C1968.7,2741.1 1970.6,2742.9 1972.4,2748.9C1974.2,2754.9 1976.8,2766.5 1977.8,2770.7C1978.8,2774.9 1977.1,2768.2 1978.1,2774.3C1979.1,2780.4 1981.8,2799.1 1983.6,2807.0C1985.4,2814.9 1986.6,2817.6 1989.0,2821.5C1991.4,2825.4 1995.7,2826.7 1998.1,2830.6C2000.5,2834.5 2001.8,2838.8 2003.6,2845.1C2005.4,2851.4 2007.5,2862.9 2009.0,2868.7C2010.5,2874.5 2011.0,2874.7 2012.3,2880.0C2013.6,2885.3 2015.5,2893.5 2017.0,2900.3C2018.5,2907.1 2019.7,2915.1 2021.1,2920.6C2022.5,2926.1 2024.2,2930.9 2025.2,2933.4C2026.2,2935.9 2026.4,2936.0 2027.2,2935.4C2028.0,2934.8 2028.9,2933.2 2029.9,2930.0C2030.9,2926.8 2032.1,2920.1 2033.3,2916.5C2034.5,2912.9 2036.1,2909.3 2037.3,2908.4C2038.5,2907.5 2039.7,2908.5 2040.7,2911.1C2041.7,2913.7 2042.4,2918.4 2043.4,2923.9C2044.4,2929.4 2045.7,2938.3 2046.8,2944.2C2047.9,2950.1 2048.8,2958.0 2049.8,2959.1C2050.8,2960.2 2051.9,2956.3 2052.9,2951.0C2053.9,2945.7 2054.7,2935.8 2055.6,2927.3C2056.5,2918.9 2057.5,2908.2 2058.3,2900.3C2059.2,2892.4 2060.1,2889.2 2060.7,2880.0C2061.3,2870.8 2060.9,2856.0 2061.7,2845.1C2062.5,2834.2 2064.1,2822.8 2065.3,2814.3C2066.5,2805.8 2067.4,2801.3 2068.9,2794.3C2070.4,2787.3 2072.6,2779.8 2074.4,2772.5C2076.2,2765.2 2078.0,2757.8 2079.8,2750.7C2081.6,2743.6 2083.5,2732.5 2085.3,2729.8C2087.1,2727.1 2088.9,2734.9 2090.7,2734.4C2092.5,2733.9 2094.1,2731.7 2096.2,2727.1C2098.3,2722.5 2101.0,2713.4 2103.4,2707.1C2105.8,2700.8 2108.3,2693.5 2110.7,2689.0C2113.1,2684.5 2115.0,2683.4 2118.0,2679.9C2121.0,2676.4 2125.3,2669.5 2128.9,2668.1C2132.5,2666.7 2136.4,2670.3 2139.7,2671.7C2143.0,2673.1 2145.5,2673.9 2148.8,2676.3C2152.1,2678.7 2155.5,2683.6 2159.7,2686.3C2163.9,2689.0 2168.8,2689.6 2174.2,2692.6C2179.6,2695.6 2187.6,2702.1 2192.4,2704.4C2197.2,2706.7 2200.3,2705.0 2203.3,2706.2C2206.3,2707.4 2209.4,2710.8 2210.6,2711.7" fill="none" stroke="#4c4c4c" stroke-width="2" stroke-linejoin="round" stroke-linecap="round"/>
<line x1="422.9" y1="553.8" x2="410.3" y2="591.9" stroke="#000" stroke-width="5.5"/>
<line x1="472.8" y1="567.6" x2="472.8" y2="602.3" stroke="#000" stroke-width="5.5"/>
<line x1="829" y1="941.7" x2="825.4" y2="972.6" stroke="#000" stroke-width="5.5"/>
<line x1="865.3" y1="939.2" x2="871.9" y2="972.6" stroke="#000" stroke-width="5.5"/>
<line x1="1551.9" y1="932.2" x2="1547.6" y2="963.5" stroke="#000" stroke-width="5.5"/>
<line x1="1598.8" y1="937.6" x2="1604.8" y2="970.3" stroke="#000" stroke-width="5.5"/>
<line x1="1943.8" y1="906.3" x2="1999.7" y2="845" stroke="#000" stroke-width="5.5"/>
<circle cx="468.8" cy="1785.3" r="5.4" fill="#000"/>
<circle cx="849.4" cy="1785.3" r="5.4" fill="#000"/>
<circle cx="468.8" cy="1817.8" r="5.4" fill="#000"/>
<circle cx="849.4" cy="1817.8" r="5.4" fill="#000"/>
<circle cx="468.8" cy="1850.4" r="5.4" fill="#000"/>
<circle cx="849.4" cy="1850.4" r="5.4" fill="#000"/>
<circle cx="468.8" cy="1882.9" r="5.4" fill="#000"/>
<circle cx="849.4" cy="1882.9" r="5.4" fill="#000"/>
<circle cx="468.8" cy="1915.5" r="5.4" fill="#000"/>
<circle cx="849.4" cy="1915.5" r="5.4" fill="#000"/>
<circle cx="468.8" cy="1948.0" r="5.4" fill="#000"/>
<circle cx="849.4" cy="1948.0" r="5.4" fill="#000"/>
<circle cx="468.8" cy="1980.5" r="5.4" fill="#000"/>
<circle cx="849.4" cy="1980.5" r="5.4" fill="#000"/>
<circle cx="468.8" cy="2013.1" r="5.4" fill="#000"/>
<circle cx="849.4" cy="2013.1" r="5.4" fill="#000"/>
<circle cx="468.8" cy="2045.6" r="5.4" fill="#000"/>
<circle cx="849.4" cy="2045.6" r="5.4" fill="#000"/>
<circle cx="468.8" cy="2078.1" r="5.4" fill="#000"/>
<circle cx="849.4" cy="2078.1" r="5.4" fill="#000"/>
<circle cx="468.8" cy="2110.7" r="5.4" fill="#000"/>
<circle cx="849.4" cy="2110.7" r="5.4" fill="#000"/>
<circle cx="468.8" cy="2143.2" r="5.4" fill="#000"/>
<circle cx="849.4" cy="2143.2" r="5.4" fill="#000"/>
<circle cx="468.8" cy="2175.8" r="5.4" fill="#000"/>
<circle cx="849.4" cy="2175.8" r="5.4" fill="#000"/>
<circle cx="468.8" cy="2208.3" r="5.4" fill="#000"/>
<circle cx="849.4" cy="2208.3" r="5.4" fill="#000"/>
<circle cx="468.8" cy="2240.8" r="5.4" fill="#000"/>
<circle cx="849.4" cy="2240.8" r="5.4" fill="#000"/>
<circle cx="468.8" cy="2273.4" r="5.4" fill="#000"/>
<circle cx="849.4" cy="2273.4" r="5.4" fill="#000"/>
<circle cx="468.8" cy="2305.9" r="5.4" fill="#000"/>
<circle cx="849.4" cy="2305.9" r="5.4" fill="#000"/>
<circle cx="468.8" cy="2338.4" r="5.4" fill="#000"/>
<circle cx="849.4" cy="2338.4" r="5.4" fill="#000"/>
<circle cx="468.8" cy="2371.0" r="5.4" fill="#000"/>
<circle cx="849.4" cy="2371.0" r="5.4" fill="#000"/>
<circle cx="468.8" cy="2403.5" r="5.4" fill="#000"/>
<circle cx="849.4" cy="2403.5" r="5.4" fill="#000"/>
<circle cx="468.8" cy="2436.1" r="5.4" fill="#000"/>
<circle cx="849.4" cy="2436.1" r="5.4" fill="#000"/>
<circle cx="468.8" cy="2468.6" r="5.4" fill="#000"/>
<circle cx="849.4" cy="2468.6" r="5.4" fill="#000"/>
<circle cx="468.8" cy="2501.1" r="5.4" fill="#000"/>
<circle cx="849.4" cy="2501.1" r="5.4" fill="#000"/>
<circle cx="468.8" cy="2533.7" r="5.4" fill="#000"/>
<circle cx="849.4" cy="2533.7" r="5.4" fill="#000"/>
<circle cx="468.8" cy="2566.2" r="5.4" fill="#000"/>
<circle cx="849.4" cy="2566.2" r="5.4" fill="#000"/>
<circle cx="468.8" cy="2598.7" r="5.4" fill="#000"/>
<circle cx="849.4" cy="2598.7" r="5.4" fill="#000"/>
<circle cx="468.8" cy="2631.3" r="5.4" fill="#000"/>
<circle cx="849.4" cy="2631.3" r="5.4" fill="#000"/>
<circle cx="468.8" cy="2663.8" r="5.4" fill="#000"/>
<circle cx="849.4" cy="2663.8" r="5.4" fill="#000"/>
<circle cx="468.8" cy="2696.3" r="5.4" fill="#000"/>
<circle cx="849.4" cy="2696.3" r="5.4" fill="#000"/>
<circle cx="468.8" cy="2728.9" r="5.4" fill="#000"/>
<circle cx="849.4" cy="2728.9" r="5.4" fill="#000"/>
<circle cx="468.8" cy="2761.4" r="5.4" fill="#000"/>
<circle cx="849.4" cy="2761.4" r="5.4" fill="#000"/>
<circle cx="468.8" cy="2794.0" r="5.4" fill="#000"/>
<circle cx="849.4" cy="2794.0" r="5.4" fill="#000"/>
<circle cx="468.8" cy="2826.5" r="5.4" fill="#000"/>
<circle cx="849.4" cy="2826.5" r="5.4" fill="#000"/>
<circle cx="487.4" cy="1770.6" r="5.4" fill="#000"/>
<circle cx="483.1" cy="2837.7" r="5.4" fill="#000"/>
<circle cx="521.7" cy="1770.6" r="5.4" fill="#000"/>
<circle cx="517.4" cy="2837.7" r="5.4" fill="#000"/>
<circle cx="556.0" cy="1770.6" r="5.4" fill="#000"/>
<circle cx="551.7" cy="2837.7" r="5.4" fill="#000"/>
<circle cx="590.2" cy="1770.6" r="5.4" fill="#000"/>
<circle cx="586.0" cy="2837.7" r="5.4" fill="#000"/>
<circle cx="624.5" cy="1770.6" r="5.4" fill="#000"/>
<circle cx="620.3" cy="2837.7" r="5.4" fill="#000"/>
<circle cx="658.8" cy="1770.6" r="5.4" fill="#000"/>
<circle cx="654.7" cy="2837.7" r="5.4" fill="#000"/>
<circle cx="693.1" cy="1770.6" r="5.4" fill="#000"/>
<circle cx="689.0" cy="2837.7" r="5.4" fill="#000"/>
<circle cx="727.4" cy="1770.6" r="5.4" fill="#000"/>
<circle cx="723.3" cy="2837.7" r="5.4" fill="#000"/>
<circle cx="761.6" cy="1770.6" r="5.4" fill="#000"/>
<circle cx="757.6" cy="2837.7" r="5.4" fill="#000"/>
<circle cx="795.9" cy="1770.6" r="5.4" fill="#000"/>
<circle cx="791.9" cy="2837.7" r="5.4" fill="#000"/>
<circle cx="830.2" cy="1770.6" r="5.4" fill="#000"/>
<circle cx="826.2" cy="2837.7" r="5.4" fill="#000"/>
<text transform="translate(12.85,66.85) scale(1,0.990280364356902)" font-size="60.124927296760724" font-weight="normal" text-anchor="start">(a)</text>
<text transform="translate(1986.10,66.80) scale(1,0.9655108664642313)" font-size="45.91094363872009" font-weight="normal" text-anchor="start">Ethambutol</text>
<text transform="translate(1978.30,487.60) scale(1,0.9812127344182243)" font-size="45.50092873952061" font-weight="normal" text-anchor="start">Palygorskite</text>
<text transform="translate(2128.20,943.10) scale(1,0.9580185912647254)" font-size="46.286246330221424" font-weight="normal" text-anchor="start">Chitosan</text>
<text transform="translate(2014.10,827.30) scale(1,1.0000982412791959)" font-size="45.5439104387295" font-weight="normal" text-anchor="start">974</text>
<text transform="translate(54.75,1710.25) scale(1,0.9324126923012471)" font-size="60.948971525338976" font-weight="normal" text-anchor="start">(b)</text>
<text transform="translate(2260.60,1888.50) scale(1,1.0081522290054192)" font-size="42.05604923553291" font-weight="normal" text-anchor="start">CE</text>
<text transform="translate(2227.80,2305.60) scale(1,1.0016851194612753)" font-size="42.32757276335211" font-weight="normal" text-anchor="start">C2P1E</text>
<text transform="translate(2246.00,2712.00) scale(1,1.00168511946124)" font-size="42.32757276335359" font-weight="normal" text-anchor="start">C1P1E</text>
<text transform="translate(204.60,1347.50)" font-size="45.5" font-weight="bold" text-anchor="middle">4000</text>
<text transform="translate(490.90,1347.50)" font-size="45.5" font-weight="bold" text-anchor="middle">3500</text>
<text transform="translate(778.70,1347.50)" font-size="45.5" font-weight="bold" text-anchor="middle">3000</text>
<text transform="translate(1065.90,1347.50)" font-size="45.5" font-weight="bold" text-anchor="middle">2500</text>
<text transform="translate(1353.90,1347.50)" font-size="45.5" font-weight="bold" text-anchor="middle">2000</text>
<text transform="translate(1640.90,1347.50)" font-size="45.5" font-weight="bold" text-anchor="middle">1500</text>
<text transform="translate(1928.00,1347.50)" font-size="45.5" font-weight="bold" text-anchor="middle">1000</text>
<text transform="translate(267.00,3100.50)" font-size="42" font-weight="bold" text-anchor="middle">4000</text>
<text transform="translate(560.50,3100.50)" font-size="42" font-weight="bold" text-anchor="middle">3500</text>
<text transform="translate(855.90,3100.50)" font-size="42" font-weight="bold" text-anchor="middle">3000</text>
<text transform="translate(1150.80,3100.50)" font-size="42" font-weight="bold" text-anchor="middle">2500</text>
<text transform="translate(1445.90,3100.50)" font-size="42" font-weight="bold" text-anchor="middle">2000</text>
<text transform="translate(1741.00,3100.50)" font-size="42" font-weight="bold" text-anchor="middle">1500</text>
<text transform="translate(2035.60,3100.50)" font-size="42" font-weight="bold" text-anchor="middle">1000</text>
<text transform="translate(906.50,1435.60) scale(1,0.9641953458869107)" font-size="46.98161080518435" font-weight="bold" text-anchor="start">Wavenumber</text>
<text transform="translate(1208.60,1434.60)" font-size="46.5" font-weight="bold" text-anchor="start">(cm</text>
<text transform="translate(1293.90,1421.90) scale(1,1.1504347826086951)" font-size="26.591242208707108" font-weight="bold" text-anchor="start">-1</text>
<text transform="translate(1322.30,1434.60)" font-size="46.5" font-weight="bold" text-anchor="start">)</text>
<text transform="translate(1005.80,3195.00) scale(1,0.916060667094503)" font-size="51.80338566072665" font-weight="bold" text-anchor="start">Wavenumber</text>
<text transform="translate(1338.80,3193.65)" font-size="51" font-weight="bold" text-anchor="start">(cm</text>
<text transform="translate(1429.35,3180.85) scale(1,1.1655858652279856)" font-size="30.15503993937254" font-weight="bold" text-anchor="start">-1</text>
<text transform="translate(1461.55,3193.65)" font-size="51" font-weight="bold" text-anchor="start">)</text>
<text transform="translate(76.60,929.50) rotate(-90) scale(1,1.1356565947916588)" font-size="43.694947376672175" font-weight="bold" text-anchor="start">Relative intensity (T%)</text>
<text transform="translate(149.30,2636.30) rotate(-90) scale(1,1.109519179784732)" font-size="40.79548989955045" font-weight="bold" text-anchor="start">Relative intensity (T%)</text>
<text transform="translate(616.40,470.40) rotate(-90) scale(1,1.187)" font-size="40.91" font-weight="normal" text-anchor="start">3294</text>
<text transform="translate(808.30,400.50) rotate(-90) scale(1,1.187)" font-size="40.91" font-weight="normal" text-anchor="start">2970</text>
<text transform="translate(1763.60,363.80) rotate(-90) scale(1,1.187)" font-size="40.91" font-weight="normal" text-anchor="start">1317</text>
<text transform="translate(1898.20,419.40) rotate(-90) scale(1,1.187)" font-size="40.91" font-weight="normal" text-anchor="start">1078</text>
<text transform="translate(430.40,707.40) rotate(-90) scale(1,1.187)" font-size="40.91" font-weight="normal" text-anchor="start">3614</text>
<text transform="translate(487.30,719.00) rotate(-90) scale(1,1.187)" font-size="40.91" font-weight="normal" text-anchor="start">3539</text>
<text transform="translate(837.60,1080.80) rotate(-90) scale(1,1.187)" font-size="40.91" font-weight="normal" text-anchor="start">2916</text>
<text transform="translate(894.10,1083.80) rotate(-90) scale(1,1.187)" font-size="40.91" font-weight="normal" text-anchor="start">2881</text>
<text transform="translate(1556.10,1068.70) rotate(-90) scale(1,1.187)" font-size="40.91" font-weight="normal" text-anchor="start">1650</text>
<text transform="translate(1611.40,1068.20) rotate(-90) scale(1,1.187)" font-size="40.91" font-weight="normal" text-anchor="start">1589</text>
<text transform="translate(1846.90,1060.60) rotate(-90) scale(1,1.187)" font-size="40.91" font-weight="normal" text-anchor="start">1151</text>
<text transform="translate(1932.30,1153.90) rotate(-90) scale(1,1.187)" font-size="40.91" font-weight="normal" text-anchor="start">1028</text>
<text transform="translate(898.90,2023.40) rotate(-90) scale(1,1.195)" font-size="36.92" font-weight="normal" text-anchor="start">2926</text>
<text transform="translate(950.50,2023.40) rotate(-90) scale(1,1.195)" font-size="36.92" font-weight="normal" text-anchor="start">2878</text>
<text transform="translate(1720.00,2081.70) rotate(-90) scale(1,1.195)" font-size="36.92" font-weight="normal" text-anchor="start">1556</text>
<text transform="translate(1812.10,2081.70) rotate(-90) scale(1,1.195)" font-size="36.92" font-weight="normal" text-anchor="start">1408</text>
<text transform="translate(1952.00,2028.20) rotate(-90) scale(1,1.195)" font-size="36.92" font-weight="normal" text-anchor="start">1151</text>
<text transform="translate(1951.00,2404.60) rotate(-90) scale(1,1.195)" font-size="36.92" font-weight="normal" text-anchor="start">1151</text>
<text transform="translate(2023.48,2183.76) scale(1.12,1) rotate(-59.5)" font-size="36.3" font-weight="normal" text-anchor="middle">1024</text>
<text transform="translate(1996.29,2567.44) scale(1.12,1) rotate(-59.0)" font-size="36.8" font-weight="normal" text-anchor="middle">1020</text>
<text transform="translate(2061.42,2564.55) scale(1.12,1) rotate(-59.0)" font-size="38.7" font-weight="normal" text-anchor="middle">985</text>
<text transform="translate(1994.46,2978.61) scale(1.12,1) rotate(-44.5)" font-size="36.4" font-weight="normal" text-anchor="middle">1018</text>
<text transform="translate(2075.50,2989.63) scale(1.12,1) rotate(-47.2)" font-size="38.5" font-weight="normal" text-anchor="middle">983</text>
</svg></body></html>
